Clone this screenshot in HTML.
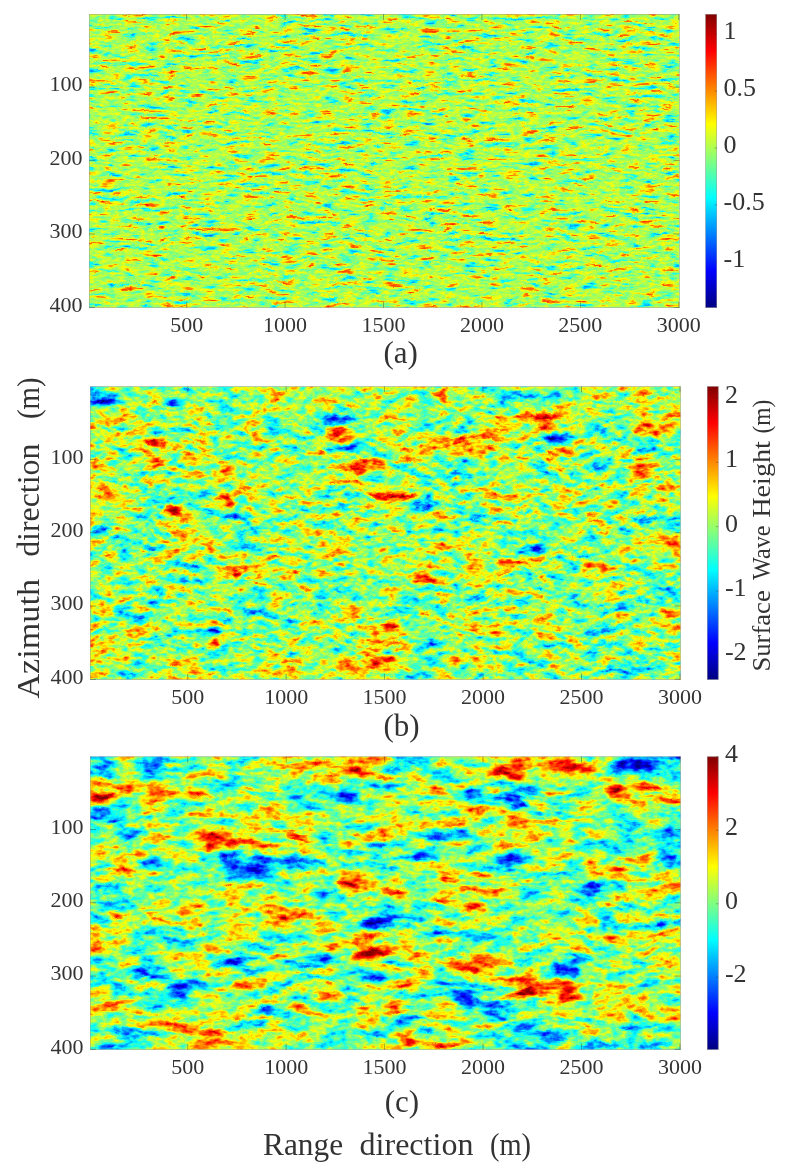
<!DOCTYPE html>
<html><head><meta charset="utf-8"><style>
html,body{margin:0;padding:0;background:#fff;}
body{width:790px;height:1173px;overflow:hidden;}
svg{display:block;will-change:transform;}
text{font-family:"Liberation Serif", serif;fill:#333333;}
.tk{font-size:22px;}
.cbt{font-size:26px;}
.lab{font-size:31px;}
.big{font-size:32px;}
.cbl{font-size:25px;}
</style></head><body>
<svg width="790" height="1173" viewBox="0 0 790 1173">
<defs>
<linearGradient id="jetgrad" x1="0" y1="1" x2="0" y2="0">
<stop offset="0.0000" stop-color="rgb(0,0,128)"/>
<stop offset="0.0312" stop-color="rgb(0,0,159)"/>
<stop offset="0.0625" stop-color="rgb(0,0,191)"/>
<stop offset="0.0938" stop-color="rgb(0,0,223)"/>
<stop offset="0.1250" stop-color="rgb(0,0,255)"/>
<stop offset="0.1562" stop-color="rgb(0,32,255)"/>
<stop offset="0.1875" stop-color="rgb(0,64,255)"/>
<stop offset="0.2188" stop-color="rgb(0,96,255)"/>
<stop offset="0.2500" stop-color="rgb(0,128,255)"/>
<stop offset="0.2812" stop-color="rgb(0,159,255)"/>
<stop offset="0.3125" stop-color="rgb(0,191,255)"/>
<stop offset="0.3438" stop-color="rgb(0,223,255)"/>
<stop offset="0.3750" stop-color="rgb(0,255,255)"/>
<stop offset="0.4062" stop-color="rgb(32,255,223)"/>
<stop offset="0.4375" stop-color="rgb(64,255,191)"/>
<stop offset="0.4688" stop-color="rgb(96,255,159)"/>
<stop offset="0.5000" stop-color="rgb(128,255,128)"/>
<stop offset="0.5312" stop-color="rgb(159,255,96)"/>
<stop offset="0.5625" stop-color="rgb(191,255,64)"/>
<stop offset="0.5938" stop-color="rgb(223,255,32)"/>
<stop offset="0.6250" stop-color="rgb(255,255,0)"/>
<stop offset="0.6562" stop-color="rgb(255,223,0)"/>
<stop offset="0.6875" stop-color="rgb(255,191,0)"/>
<stop offset="0.7188" stop-color="rgb(255,159,0)"/>
<stop offset="0.7500" stop-color="rgb(255,128,0)"/>
<stop offset="0.7812" stop-color="rgb(255,96,0)"/>
<stop offset="0.8125" stop-color="rgb(255,64,0)"/>
<stop offset="0.8438" stop-color="rgb(255,32,0)"/>
<stop offset="0.8750" stop-color="rgb(255,0,0)"/>
<stop offset="0.9062" stop-color="rgb(223,0,0)"/>
<stop offset="0.9375" stop-color="rgb(191,0,0)"/>
<stop offset="0.9688" stop-color="rgb(159,0,0)"/>
<stop offset="1.0000" stop-color="rgb(128,0,0)"/>
</linearGradient>
<filter id="gb0" filterUnits="userSpaceOnUse" x="59.0" y="-15.9" width="650.5" height="353.7" color-interpolation-filters="sRGB"><feGaussianBlur stdDeviation="0"/></filter>
<filter id="fb0" filterUnits="userSpaceOnUse" x="59.0" y="-15.9" width="650.5" height="353.7" color-interpolation-filters="sRGB"><feGaussianBlur stdDeviation="2"/></filter>
<filter id="hf0" filterUnits="userSpaceOnUse" x="59.0" y="-15.9" width="650.5" height="353.7" color-interpolation-filters="sRGB">
<feOffset in="SourceGraphic" dx="0" dy="0" result="s"/>
<feTurbulence type="fractalNoise" baseFrequency="0.05 0.24" numOctaves="3" seed="3" result="n0"/>
<feTurbulence type="fractalNoise" baseFrequency="0.03 0.05" numOctaves="2" seed="23" result="d0"/><feDisplacementMap in="n0" in2="d0" scale="8" xChannelSelector="R" yChannelSelector="G" result="n1"/><feColorMatrix in="n1" type="matrix" values="1 0 0 0 0  1 0 0 0 0  1 0 0 0 0  0 0 0 0 1" result="nr"/>
<feGaussianBlur in="nr" stdDeviation="10" result="nb"/>
<feColorMatrix in="nb" type="matrix" values="-1 0 0 0 1  -1 0 0 0 1  -1 0 0 0 1  0 0 0 0 1" result="nbi"/>
<feComposite in="nr" in2="nbi" operator="arithmetic" k1="0" k2="1" k3="1" k4="-0.5" result="nh"/>
<feComponentTransfer in="nh" result="n"><feFuncR type="table" tableValues="0 0.02 0.12 0.41 0.5 0.59 0.88 0.98 1"/><feFuncG type="table" tableValues="0 0.02 0.12 0.41 0.5 0.59 0.88 0.98 1"/><feFuncB type="table" tableValues="0 0.02 0.12 0.41 0.5 0.59 0.88 0.98 1"/></feComponentTransfer>
<feTurbulence type="fractalNoise" baseFrequency="0.2 0.35" numOctaves="2" seed="5" result="q0"/>
<feColorMatrix in="q0" type="matrix" values="1 0 0 0 0  1 0 0 0 0  1 0 0 0 0  0 0 0 0 1" result="q"/>
<feComposite in="s" in2="n" operator="arithmetic" k1="0" k2="1" k3="0.55" k4="-0.2750" result="m"/>
<feComposite in="m" in2="q" operator="arithmetic" k1="0" k2="1" k3="0.18" k4="-0.0900" result="m2"/>
<feColorMatrix in="m2" type="matrix" values="1 0 0 0 0  1 0 0 0 0  1 0 0 0 0  0 0 0 0 1"/>
<feComponentTransfer><feFuncR type="table" tableValues="0.000 0.000 0.000 0.000 0.000 0.000 0.000 0.000 0.000 0.000 0.000 0.000 0.000 0.125 0.250 0.375 0.500 0.625 0.750 0.875 1.000 1.000 1.000 1.000 1.000 1.000 1.000 1.000 1.000 0.875 0.750 0.625 0.500"/><feFuncG type="table" tableValues="0.000 0.000 0.000 0.000 0.000 0.125 0.250 0.375 0.500 0.625 0.750 0.875 1.000 1.000 1.000 1.000 1.000 1.000 1.000 1.000 1.000 0.875 0.750 0.625 0.500 0.375 0.250 0.125 0.000 0.000 0.000 0.000 0.000"/><feFuncB type="table" tableValues="0.500 0.625 0.750 0.875 1.000 1.000 1.000 1.000 1.000 1.000 1.000 1.000 1.000 0.875 0.750 0.625 0.500 0.375 0.250 0.125 0.000 0.000 0.000 0.000 0.000 0.000 0.000 0.000 0.000 0.000 0.000 0.000 0.000"/></feComponentTransfer><feGaussianBlur stdDeviation="0.6"/>
</filter>
<filter id="gb1" filterUnits="userSpaceOnUse" x="60.0" y="356.4" width="650.7" height="353.3" color-interpolation-filters="sRGB"><feGaussianBlur stdDeviation="7 6"/></filter>
<filter id="fb1" filterUnits="userSpaceOnUse" x="60.0" y="356.4" width="650.7" height="353.3" color-interpolation-filters="sRGB"><feGaussianBlur stdDeviation="3 2"/></filter>
<filter id="hf1" filterUnits="userSpaceOnUse" x="60.0" y="356.4" width="650.7" height="353.3" color-interpolation-filters="sRGB">
<feOffset in="SourceGraphic" dx="0" dy="0" result="s"/>
<feTurbulence type="fractalNoise" baseFrequency="0.06 0.14" numOctaves="3" seed="7" result="n0"/>
<feTurbulence type="fractalNoise" baseFrequency="0.02 0.03" numOctaves="2" seed="27" result="d0"/><feDisplacementMap in="n0" in2="d0" scale="14" xChannelSelector="R" yChannelSelector="G" result="n1"/><feColorMatrix in="n1" type="matrix" values="1 0 0 0 0  1 0 0 0 0  1 0 0 0 0  0 0 0 0 1" result="nr"/>
<feGaussianBlur in="nr" stdDeviation="12" result="nb"/>
<feColorMatrix in="nb" type="matrix" values="-1 0 0 0 1  -1 0 0 0 1  -1 0 0 0 1  0 0 0 0 1" result="nbi"/>
<feComposite in="nr" in2="nbi" operator="arithmetic" k1="0" k2="1" k3="1" k4="-0.5" result="nh"/>
<feComponentTransfer in="nh" result="n"><feFuncR type="table" tableValues="0 1"/><feFuncG type="table" tableValues="0 1"/><feFuncB type="table" tableValues="0 1"/></feComponentTransfer>
<feTurbulence type="fractalNoise" baseFrequency="0.15 0.25" numOctaves="2" seed="9" result="q0"/>
<feColorMatrix in="q0" type="matrix" values="1 0 0 0 0  1 0 0 0 0  1 0 0 0 0  0 0 0 0 1" result="q"/>
<feComposite in="s" in2="n" operator="arithmetic" k1="0" k2="1" k3="0.7" k4="-0.3500" result="m"/>
<feComposite in="m" in2="q" operator="arithmetic" k1="0" k2="1" k3="0.3" k4="-0.1500" result="m2"/>
<feColorMatrix in="m2" type="matrix" values="1 0 0 0 0  1 0 0 0 0  1 0 0 0 0  0 0 0 0 1"/>
<feComponentTransfer><feFuncR type="table" tableValues="0.000 0.000 0.000 0.000 0.000 0.000 0.000 0.000 0.000 0.000 0.000 0.000 0.000 0.125 0.250 0.375 0.500 0.625 0.750 0.875 1.000 1.000 1.000 1.000 1.000 1.000 1.000 1.000 1.000 0.875 0.750 0.625 0.500"/><feFuncG type="table" tableValues="0.000 0.000 0.000 0.000 0.000 0.125 0.250 0.375 0.500 0.625 0.750 0.875 1.000 1.000 1.000 1.000 1.000 1.000 1.000 1.000 1.000 0.875 0.750 0.625 0.500 0.375 0.250 0.125 0.000 0.000 0.000 0.000 0.000"/><feFuncB type="table" tableValues="0.500 0.625 0.750 0.875 1.000 1.000 1.000 1.000 1.000 1.000 1.000 1.000 1.000 0.875 0.750 0.625 0.500 0.375 0.250 0.125 0.000 0.000 0.000 0.000 0.000 0.000 0.000 0.000 0.000 0.000 0.000 0.000 0.000"/></feComponentTransfer><feGaussianBlur stdDeviation="0.6"/>
</filter>
<filter id="gb2" filterUnits="userSpaceOnUse" x="60.0" y="726.6" width="650.7" height="353.1" color-interpolation-filters="sRGB"><feGaussianBlur stdDeviation="10 5"/></filter>
<filter id="fb2" filterUnits="userSpaceOnUse" x="60.0" y="726.6" width="650.7" height="353.1" color-interpolation-filters="sRGB"><feGaussianBlur stdDeviation="3.5 2.5"/></filter>
<filter id="hf2" filterUnits="userSpaceOnUse" x="60.0" y="726.6" width="650.7" height="353.1" color-interpolation-filters="sRGB">
<feOffset in="SourceGraphic" dx="0" dy="0" result="s"/>
<feTurbulence type="fractalNoise" baseFrequency="0.035 0.1" numOctaves="3" seed="11" result="n0"/>
<feTurbulence type="fractalNoise" baseFrequency="0.015 0.025" numOctaves="2" seed="31" result="d0"/><feDisplacementMap in="n0" in2="d0" scale="16" xChannelSelector="R" yChannelSelector="G" result="n1"/><feColorMatrix in="n1" type="matrix" values="1 0 0 0 0  1 0 0 0 0  1 0 0 0 0  0 0 0 0 1" result="nr"/>
<feGaussianBlur in="nr" stdDeviation="14" result="nb"/>
<feColorMatrix in="nb" type="matrix" values="-1 0 0 0 1  -1 0 0 0 1  -1 0 0 0 1  0 0 0 0 1" result="nbi"/>
<feComposite in="nr" in2="nbi" operator="arithmetic" k1="0" k2="1" k3="1" k4="-0.5" result="nh"/>
<feComponentTransfer in="nh" result="n"><feFuncR type="table" tableValues="0 1"/><feFuncG type="table" tableValues="0 1"/><feFuncB type="table" tableValues="0 1"/></feComponentTransfer>
<feTurbulence type="fractalNoise" baseFrequency="0.15 0.25" numOctaves="2" seed="13" result="q0"/>
<feColorMatrix in="q0" type="matrix" values="1 0 0 0 0  1 0 0 0 0  1 0 0 0 0  0 0 0 0 1" result="q"/>
<feComposite in="s" in2="n" operator="arithmetic" k1="0" k2="1" k3="0.78" k4="-0.3900" result="m"/>
<feComposite in="m" in2="q" operator="arithmetic" k1="0" k2="1" k3="0.3" k4="-0.1500" result="m2"/>
<feColorMatrix in="m2" type="matrix" values="1 0 0 0 0  1 0 0 0 0  1 0 0 0 0  0 0 0 0 1"/>
<feComponentTransfer><feFuncR type="table" tableValues="0.000 0.000 0.000 0.000 0.000 0.000 0.000 0.000 0.000 0.000 0.000 0.000 0.000 0.125 0.250 0.375 0.500 0.625 0.750 0.875 1.000 1.000 1.000 1.000 1.000 1.000 1.000 1.000 1.000 0.875 0.750 0.625 0.500"/><feFuncG type="table" tableValues="0.000 0.000 0.000 0.000 0.000 0.125 0.250 0.375 0.500 0.625 0.750 0.875 1.000 1.000 1.000 1.000 1.000 1.000 1.000 1.000 1.000 0.875 0.750 0.625 0.500 0.375 0.250 0.125 0.000 0.000 0.000 0.000 0.000"/><feFuncB type="table" tableValues="0.500 0.625 0.750 0.875 1.000 1.000 1.000 1.000 1.000 1.000 1.000 1.000 1.000 0.875 0.750 0.625 0.500 0.375 0.250 0.125 0.000 0.000 0.000 0.000 0.000 0.000 0.000 0.000 0.000 0.000 0.000 0.000 0.000"/></feComponentTransfer><feGaussianBlur stdDeviation="0.6"/>
</filter>
</defs>
<rect width="790" height="1173" fill="#fff"/>
<clipPath id="cp0"><rect x="89.0" y="14.1" width="590.50" height="293.70"/></clipPath>
<g clip-path="url(#cp0)"><g filter="url(#hf0)">
<rect x="59.0" y="-15.9" width="650.50" height="353.70" fill="#8c8c8c"/>
</g></g>
<rect x="89.25" y="14.35" width="590.00" height="293.20" fill="none" stroke="#9a9a9a" stroke-width="0.5"/>
<line x1="186.68" y1="307.8" x2="186.68" y2="301.8" stroke="#333" stroke-width="0.7" opacity="0.6"/>
<line x1="186.68" y1="14.1" x2="186.68" y2="20.1" stroke="#333" stroke-width="0.7" opacity="0.6"/>
<text x="186.68" y="331.80" text-anchor="middle" class="tk">500</text>
<line x1="285.10" y1="307.8" x2="285.10" y2="301.8" stroke="#333" stroke-width="0.7" opacity="0.6"/>
<line x1="285.10" y1="14.1" x2="285.10" y2="20.1" stroke="#333" stroke-width="0.7" opacity="0.6"/>
<text x="285.10" y="331.80" text-anchor="middle" class="tk">1000</text>
<line x1="383.51" y1="307.8" x2="383.51" y2="301.8" stroke="#333" stroke-width="0.7" opacity="0.6"/>
<line x1="383.51" y1="14.1" x2="383.51" y2="20.1" stroke="#333" stroke-width="0.7" opacity="0.6"/>
<text x="383.51" y="331.80" text-anchor="middle" class="tk">1500</text>
<line x1="481.93" y1="307.8" x2="481.93" y2="301.8" stroke="#333" stroke-width="0.7" opacity="0.6"/>
<line x1="481.93" y1="14.1" x2="481.93" y2="20.1" stroke="#333" stroke-width="0.7" opacity="0.6"/>
<text x="481.93" y="331.80" text-anchor="middle" class="tk">2000</text>
<line x1="580.35" y1="307.8" x2="580.35" y2="301.8" stroke="#333" stroke-width="0.7" opacity="0.6"/>
<line x1="580.35" y1="14.1" x2="580.35" y2="20.1" stroke="#333" stroke-width="0.7" opacity="0.6"/>
<text x="580.35" y="331.80" text-anchor="middle" class="tk">2500</text>
<line x1="678.76" y1="307.8" x2="678.76" y2="301.8" stroke="#333" stroke-width="0.7" opacity="0.6"/>
<line x1="678.76" y1="14.1" x2="678.76" y2="20.1" stroke="#333" stroke-width="0.7" opacity="0.6"/>
<text x="678.76" y="331.80" text-anchor="middle" class="tk">3000</text>
<line x1="89.0" y1="87.16" x2="95.0" y2="87.16" stroke="#333" stroke-width="0.7" opacity="0.6"/>
<line x1="679.5" y1="87.16" x2="673.5" y2="87.16" stroke="#333" stroke-width="0.7" opacity="0.6"/>
<text x="82.40" y="91.46" text-anchor="end" class="tk">100</text>
<line x1="89.0" y1="160.58" x2="95.0" y2="160.58" stroke="#333" stroke-width="0.7" opacity="0.6"/>
<line x1="679.5" y1="160.58" x2="673.5" y2="160.58" stroke="#333" stroke-width="0.7" opacity="0.6"/>
<text x="82.40" y="164.88" text-anchor="end" class="tk">200</text>
<line x1="89.0" y1="234.01" x2="95.0" y2="234.01" stroke="#333" stroke-width="0.7" opacity="0.6"/>
<line x1="679.5" y1="234.01" x2="673.5" y2="234.01" stroke="#333" stroke-width="0.7" opacity="0.6"/>
<text x="82.40" y="238.31" text-anchor="end" class="tk">300</text>
<line x1="89.0" y1="307.43" x2="95.0" y2="307.43" stroke="#333" stroke-width="0.7" opacity="0.6"/>
<line x1="679.5" y1="307.43" x2="673.5" y2="307.43" stroke="#333" stroke-width="0.7" opacity="0.6"/>
<text x="82.40" y="311.73" text-anchor="end" class="tk">400</text>
<rect x="705.5" y="14.1" width="11.50" height="293.70" fill="url(#jetgrad)"/>
<rect x="705.75" y="14.35" width="11.00" height="293.20" fill="none" stroke="#9a9a9a" stroke-width="0.5"/>
<line x1="714.50" y1="34.20" x2="717.00" y2="34.20" stroke="#333" stroke-width="0.7" opacity="0.5"/>
<text x="723.50" y="39.10" class="cbt">1</text>
<line x1="714.50" y1="91.10" x2="717.00" y2="91.10" stroke="#333" stroke-width="0.7" opacity="0.5"/>
<text x="723.50" y="96.00" class="cbt">0.5</text>
<line x1="714.50" y1="148.00" x2="717.00" y2="148.00" stroke="#333" stroke-width="0.7" opacity="0.5"/>
<text x="723.50" y="152.90" class="cbt">0</text>
<line x1="714.50" y1="204.90" x2="717.00" y2="204.90" stroke="#333" stroke-width="0.7" opacity="0.5"/>
<text x="723.50" y="209.80" class="cbt">-0.5</text>
<line x1="714.50" y1="261.80" x2="717.00" y2="261.80" stroke="#333" stroke-width="0.7" opacity="0.5"/>
<text x="723.50" y="266.70" class="cbt">-1</text>
<text x="400.60" y="363.20" text-anchor="middle" class="lab">(a)</text>
<clipPath id="cp1"><rect x="90.0" y="386.4" width="590.70" height="293.30"/></clipPath>
<g clip-path="url(#cp1)"><g filter="url(#hf1)">
<g filter="url(#gb1)">
<rect x="65.4" y="362.0" width="25.2" height="25.0" fill="#5c5c5c"/>
<rect x="90.0" y="362.0" width="25.2" height="25.0" fill="#5c5c5c"/>
<rect x="114.6" y="362.0" width="25.2" height="25.0" fill="#878787"/>
<rect x="139.2" y="362.0" width="25.2" height="25.0" fill="#878787"/>
<rect x="163.8" y="362.0" width="25.2" height="25.0" fill="#727272"/>
<rect x="188.4" y="362.0" width="25.2" height="25.0" fill="#878787"/>
<rect x="213.1" y="362.0" width="25.2" height="25.0" fill="#727272"/>
<rect x="237.7" y="362.0" width="25.2" height="25.0" fill="#878787"/>
<rect x="262.3" y="362.0" width="25.2" height="25.0" fill="#9d9d9d"/>
<rect x="286.9" y="362.0" width="25.2" height="25.0" fill="#878787"/>
<rect x="311.5" y="362.0" width="25.2" height="25.0" fill="#9d9d9d"/>
<rect x="336.1" y="362.0" width="25.2" height="25.0" fill="#878787"/>
<rect x="360.7" y="362.0" width="25.2" height="25.0" fill="#878787"/>
<rect x="385.4" y="362.0" width="25.2" height="25.0" fill="#878787"/>
<rect x="410.0" y="362.0" width="25.2" height="25.0" fill="#878787"/>
<rect x="434.6" y="362.0" width="25.2" height="25.0" fill="#9d9d9d"/>
<rect x="459.2" y="362.0" width="25.2" height="25.0" fill="#878787"/>
<rect x="483.8" y="362.0" width="25.2" height="25.0" fill="#727272"/>
<rect x="508.4" y="362.0" width="25.2" height="25.0" fill="#727272"/>
<rect x="533.0" y="362.0" width="25.2" height="25.0" fill="#727272"/>
<rect x="557.6" y="362.0" width="25.2" height="25.0" fill="#878787"/>
<rect x="582.2" y="362.0" width="25.2" height="25.0" fill="#9d9d9d"/>
<rect x="606.9" y="362.0" width="25.2" height="25.0" fill="#878787"/>
<rect x="631.5" y="362.0" width="25.2" height="25.0" fill="#9d9d9d"/>
<rect x="656.1" y="362.0" width="25.2" height="25.0" fill="#878787"/>
<rect x="680.7" y="362.0" width="25.2" height="25.0" fill="#878787"/>
<rect x="65.4" y="386.4" width="25.2" height="25.0" fill="#5c5c5c"/>
<rect x="90.0" y="386.4" width="25.2" height="25.0" fill="#5c5c5c"/>
<rect x="114.6" y="386.4" width="25.2" height="25.0" fill="#878787"/>
<rect x="139.2" y="386.4" width="25.2" height="25.0" fill="#878787"/>
<rect x="163.8" y="386.4" width="25.2" height="25.0" fill="#727272"/>
<rect x="188.4" y="386.4" width="25.2" height="25.0" fill="#878787"/>
<rect x="213.1" y="386.4" width="25.2" height="25.0" fill="#727272"/>
<rect x="237.7" y="386.4" width="25.2" height="25.0" fill="#878787"/>
<rect x="262.3" y="386.4" width="25.2" height="25.0" fill="#9d9d9d"/>
<rect x="286.9" y="386.4" width="25.2" height="25.0" fill="#878787"/>
<rect x="311.5" y="386.4" width="25.2" height="25.0" fill="#9d9d9d"/>
<rect x="336.1" y="386.4" width="25.2" height="25.0" fill="#878787"/>
<rect x="360.7" y="386.4" width="25.2" height="25.0" fill="#878787"/>
<rect x="385.4" y="386.4" width="25.2" height="25.0" fill="#878787"/>
<rect x="410.0" y="386.4" width="25.2" height="25.0" fill="#878787"/>
<rect x="434.6" y="386.4" width="25.2" height="25.0" fill="#9d9d9d"/>
<rect x="459.2" y="386.4" width="25.2" height="25.0" fill="#878787"/>
<rect x="483.8" y="386.4" width="25.2" height="25.0" fill="#727272"/>
<rect x="508.4" y="386.4" width="25.2" height="25.0" fill="#727272"/>
<rect x="533.0" y="386.4" width="25.2" height="25.0" fill="#727272"/>
<rect x="557.6" y="386.4" width="25.2" height="25.0" fill="#878787"/>
<rect x="582.2" y="386.4" width="25.2" height="25.0" fill="#9d9d9d"/>
<rect x="606.9" y="386.4" width="25.2" height="25.0" fill="#878787"/>
<rect x="631.5" y="386.4" width="25.2" height="25.0" fill="#9d9d9d"/>
<rect x="656.1" y="386.4" width="25.2" height="25.0" fill="#878787"/>
<rect x="680.7" y="386.4" width="25.2" height="25.0" fill="#878787"/>
<rect x="65.4" y="410.8" width="25.2" height="25.0" fill="#9d9d9d"/>
<rect x="90.0" y="410.8" width="25.2" height="25.0" fill="#9d9d9d"/>
<rect x="114.6" y="410.8" width="25.2" height="25.0" fill="#9d9d9d"/>
<rect x="139.2" y="410.8" width="25.2" height="25.0" fill="#878787"/>
<rect x="163.8" y="410.8" width="25.2" height="25.0" fill="#878787"/>
<rect x="188.4" y="410.8" width="25.2" height="25.0" fill="#9d9d9d"/>
<rect x="213.1" y="410.8" width="25.2" height="25.0" fill="#727272"/>
<rect x="237.7" y="410.8" width="25.2" height="25.0" fill="#9d9d9d"/>
<rect x="262.3" y="410.8" width="25.2" height="25.0" fill="#727272"/>
<rect x="286.9" y="410.8" width="25.2" height="25.0" fill="#878787"/>
<rect x="311.5" y="410.8" width="25.2" height="25.0" fill="#5c5c5c"/>
<rect x="336.1" y="410.8" width="25.2" height="25.0" fill="#878787"/>
<rect x="360.7" y="410.8" width="25.2" height="25.0" fill="#878787"/>
<rect x="385.4" y="410.8" width="25.2" height="25.0" fill="#9d9d9d"/>
<rect x="410.0" y="410.8" width="25.2" height="25.0" fill="#727272"/>
<rect x="434.6" y="410.8" width="25.2" height="25.0" fill="#727272"/>
<rect x="459.2" y="410.8" width="25.2" height="25.0" fill="#878787"/>
<rect x="483.8" y="410.8" width="25.2" height="25.0" fill="#9d9d9d"/>
<rect x="508.4" y="410.8" width="25.2" height="25.0" fill="#9d9d9d"/>
<rect x="533.0" y="410.8" width="25.2" height="25.0" fill="#b2b2b2"/>
<rect x="557.6" y="410.8" width="25.2" height="25.0" fill="#9d9d9d"/>
<rect x="582.2" y="410.8" width="25.2" height="25.0" fill="#727272"/>
<rect x="606.9" y="410.8" width="25.2" height="25.0" fill="#727272"/>
<rect x="631.5" y="410.8" width="25.2" height="25.0" fill="#9d9d9d"/>
<rect x="656.1" y="410.8" width="25.2" height="25.0" fill="#9d9d9d"/>
<rect x="680.7" y="410.8" width="25.2" height="25.0" fill="#9d9d9d"/>
<rect x="65.4" y="435.3" width="25.2" height="25.0" fill="#878787"/>
<rect x="90.0" y="435.3" width="25.2" height="25.0" fill="#878787"/>
<rect x="114.6" y="435.3" width="25.2" height="25.0" fill="#878787"/>
<rect x="139.2" y="435.3" width="25.2" height="25.0" fill="#b2b2b2"/>
<rect x="163.8" y="435.3" width="25.2" height="25.0" fill="#878787"/>
<rect x="188.4" y="435.3" width="25.2" height="25.0" fill="#9d9d9d"/>
<rect x="213.1" y="435.3" width="25.2" height="25.0" fill="#727272"/>
<rect x="237.7" y="435.3" width="25.2" height="25.0" fill="#878787"/>
<rect x="262.3" y="435.3" width="25.2" height="25.0" fill="#878787"/>
<rect x="286.9" y="435.3" width="25.2" height="25.0" fill="#727272"/>
<rect x="311.5" y="435.3" width="25.2" height="25.0" fill="#9d9d9d"/>
<rect x="336.1" y="435.3" width="25.2" height="25.0" fill="#878787"/>
<rect x="360.7" y="435.3" width="25.2" height="25.0" fill="#727272"/>
<rect x="385.4" y="435.3" width="25.2" height="25.0" fill="#9d9d9d"/>
<rect x="410.0" y="435.3" width="25.2" height="25.0" fill="#9d9d9d"/>
<rect x="434.6" y="435.3" width="25.2" height="25.0" fill="#9d9d9d"/>
<rect x="459.2" y="435.3" width="25.2" height="25.0" fill="#b2b2b2"/>
<rect x="483.8" y="435.3" width="25.2" height="25.0" fill="#9d9d9d"/>
<rect x="508.4" y="435.3" width="25.2" height="25.0" fill="#878787"/>
<rect x="533.0" y="435.3" width="25.2" height="25.0" fill="#727272"/>
<rect x="557.6" y="435.3" width="25.2" height="25.0" fill="#878787"/>
<rect x="582.2" y="435.3" width="25.2" height="25.0" fill="#878787"/>
<rect x="606.9" y="435.3" width="25.2" height="25.0" fill="#878787"/>
<rect x="631.5" y="435.3" width="25.2" height="25.0" fill="#727272"/>
<rect x="656.1" y="435.3" width="25.2" height="25.0" fill="#727272"/>
<rect x="680.7" y="435.3" width="25.2" height="25.0" fill="#727272"/>
<rect x="65.4" y="459.7" width="25.2" height="25.0" fill="#9d9d9d"/>
<rect x="90.0" y="459.7" width="25.2" height="25.0" fill="#9d9d9d"/>
<rect x="114.6" y="459.7" width="25.2" height="25.0" fill="#727272"/>
<rect x="139.2" y="459.7" width="25.2" height="25.0" fill="#9d9d9d"/>
<rect x="163.8" y="459.7" width="25.2" height="25.0" fill="#878787"/>
<rect x="188.4" y="459.7" width="25.2" height="25.0" fill="#9d9d9d"/>
<rect x="213.1" y="459.7" width="25.2" height="25.0" fill="#9d9d9d"/>
<rect x="237.7" y="459.7" width="25.2" height="25.0" fill="#878787"/>
<rect x="262.3" y="459.7" width="25.2" height="25.0" fill="#878787"/>
<rect x="286.9" y="459.7" width="25.2" height="25.0" fill="#878787"/>
<rect x="311.5" y="459.7" width="25.2" height="25.0" fill="#878787"/>
<rect x="336.1" y="459.7" width="25.2" height="25.0" fill="#b2b2b2"/>
<rect x="360.7" y="459.7" width="25.2" height="25.0" fill="#878787"/>
<rect x="385.4" y="459.7" width="25.2" height="25.0" fill="#727272"/>
<rect x="410.0" y="459.7" width="25.2" height="25.0" fill="#878787"/>
<rect x="434.6" y="459.7" width="25.2" height="25.0" fill="#727272"/>
<rect x="459.2" y="459.7" width="25.2" height="25.0" fill="#727272"/>
<rect x="483.8" y="459.7" width="25.2" height="25.0" fill="#878787"/>
<rect x="508.4" y="459.7" width="25.2" height="25.0" fill="#878787"/>
<rect x="533.0" y="459.7" width="25.2" height="25.0" fill="#727272"/>
<rect x="557.6" y="459.7" width="25.2" height="25.0" fill="#878787"/>
<rect x="582.2" y="459.7" width="25.2" height="25.0" fill="#727272"/>
<rect x="606.9" y="459.7" width="25.2" height="25.0" fill="#878787"/>
<rect x="631.5" y="459.7" width="25.2" height="25.0" fill="#b2b2b2"/>
<rect x="656.1" y="459.7" width="25.2" height="25.0" fill="#878787"/>
<rect x="680.7" y="459.7" width="25.2" height="25.0" fill="#878787"/>
<rect x="65.4" y="484.2" width="25.2" height="25.0" fill="#9d9d9d"/>
<rect x="90.0" y="484.2" width="25.2" height="25.0" fill="#9d9d9d"/>
<rect x="114.6" y="484.2" width="25.2" height="25.0" fill="#9d9d9d"/>
<rect x="139.2" y="484.2" width="25.2" height="25.0" fill="#727272"/>
<rect x="163.8" y="484.2" width="25.2" height="25.0" fill="#727272"/>
<rect x="188.4" y="484.2" width="25.2" height="25.0" fill="#727272"/>
<rect x="213.1" y="484.2" width="25.2" height="25.0" fill="#878787"/>
<rect x="237.7" y="484.2" width="25.2" height="25.0" fill="#9d9d9d"/>
<rect x="262.3" y="484.2" width="25.2" height="25.0" fill="#878787"/>
<rect x="286.9" y="484.2" width="25.2" height="25.0" fill="#878787"/>
<rect x="311.5" y="484.2" width="25.2" height="25.0" fill="#878787"/>
<rect x="336.1" y="484.2" width="25.2" height="25.0" fill="#727272"/>
<rect x="360.7" y="484.2" width="25.2" height="25.0" fill="#9d9d9d"/>
<rect x="385.4" y="484.2" width="25.2" height="25.0" fill="#b2b2b2"/>
<rect x="410.0" y="484.2" width="25.2" height="25.0" fill="#727272"/>
<rect x="434.6" y="484.2" width="25.2" height="25.0" fill="#878787"/>
<rect x="459.2" y="484.2" width="25.2" height="25.0" fill="#878787"/>
<rect x="483.8" y="484.2" width="25.2" height="25.0" fill="#9d9d9d"/>
<rect x="508.4" y="484.2" width="25.2" height="25.0" fill="#9d9d9d"/>
<rect x="533.0" y="484.2" width="25.2" height="25.0" fill="#878787"/>
<rect x="557.6" y="484.2" width="25.2" height="25.0" fill="#9d9d9d"/>
<rect x="582.2" y="484.2" width="25.2" height="25.0" fill="#878787"/>
<rect x="606.9" y="484.2" width="25.2" height="25.0" fill="#878787"/>
<rect x="631.5" y="484.2" width="25.2" height="25.0" fill="#878787"/>
<rect x="656.1" y="484.2" width="25.2" height="25.0" fill="#9d9d9d"/>
<rect x="680.7" y="484.2" width="25.2" height="25.0" fill="#9d9d9d"/>
<rect x="65.4" y="508.6" width="25.2" height="25.0" fill="#878787"/>
<rect x="90.0" y="508.6" width="25.2" height="25.0" fill="#878787"/>
<rect x="114.6" y="508.6" width="25.2" height="25.0" fill="#878787"/>
<rect x="139.2" y="508.6" width="25.2" height="25.0" fill="#727272"/>
<rect x="163.8" y="508.6" width="25.2" height="25.0" fill="#b2b2b2"/>
<rect x="188.4" y="508.6" width="25.2" height="25.0" fill="#878787"/>
<rect x="213.1" y="508.6" width="25.2" height="25.0" fill="#727272"/>
<rect x="237.7" y="508.6" width="25.2" height="25.0" fill="#727272"/>
<rect x="262.3" y="508.6" width="25.2" height="25.0" fill="#878787"/>
<rect x="286.9" y="508.6" width="25.2" height="25.0" fill="#878787"/>
<rect x="311.5" y="508.6" width="25.2" height="25.0" fill="#878787"/>
<rect x="336.1" y="508.6" width="25.2" height="25.0" fill="#878787"/>
<rect x="360.7" y="508.6" width="25.2" height="25.0" fill="#878787"/>
<rect x="385.4" y="508.6" width="25.2" height="25.0" fill="#878787"/>
<rect x="410.0" y="508.6" width="25.2" height="25.0" fill="#878787"/>
<rect x="434.6" y="508.6" width="25.2" height="25.0" fill="#878787"/>
<rect x="459.2" y="508.6" width="25.2" height="25.0" fill="#727272"/>
<rect x="483.8" y="508.6" width="25.2" height="25.0" fill="#878787"/>
<rect x="508.4" y="508.6" width="25.2" height="25.0" fill="#878787"/>
<rect x="533.0" y="508.6" width="25.2" height="25.0" fill="#727272"/>
<rect x="557.6" y="508.6" width="25.2" height="25.0" fill="#878787"/>
<rect x="582.2" y="508.6" width="25.2" height="25.0" fill="#878787"/>
<rect x="606.9" y="508.6" width="25.2" height="25.0" fill="#878787"/>
<rect x="631.5" y="508.6" width="25.2" height="25.0" fill="#727272"/>
<rect x="656.1" y="508.6" width="25.2" height="25.0" fill="#727272"/>
<rect x="680.7" y="508.6" width="25.2" height="25.0" fill="#727272"/>
<rect x="65.4" y="533.0" width="25.2" height="25.0" fill="#878787"/>
<rect x="90.0" y="533.0" width="25.2" height="25.0" fill="#878787"/>
<rect x="114.6" y="533.0" width="25.2" height="25.0" fill="#727272"/>
<rect x="139.2" y="533.0" width="25.2" height="25.0" fill="#727272"/>
<rect x="163.8" y="533.0" width="25.2" height="25.0" fill="#9d9d9d"/>
<rect x="188.4" y="533.0" width="25.2" height="25.0" fill="#9d9d9d"/>
<rect x="213.1" y="533.0" width="25.2" height="25.0" fill="#878787"/>
<rect x="237.7" y="533.0" width="25.2" height="25.0" fill="#727272"/>
<rect x="262.3" y="533.0" width="25.2" height="25.0" fill="#878787"/>
<rect x="286.9" y="533.0" width="25.2" height="25.0" fill="#878787"/>
<rect x="311.5" y="533.0" width="25.2" height="25.0" fill="#9d9d9d"/>
<rect x="336.1" y="533.0" width="25.2" height="25.0" fill="#878787"/>
<rect x="360.7" y="533.0" width="25.2" height="25.0" fill="#878787"/>
<rect x="385.4" y="533.0" width="25.2" height="25.0" fill="#878787"/>
<rect x="410.0" y="533.0" width="25.2" height="25.0" fill="#878787"/>
<rect x="434.6" y="533.0" width="25.2" height="25.0" fill="#878787"/>
<rect x="459.2" y="533.0" width="25.2" height="25.0" fill="#9d9d9d"/>
<rect x="483.8" y="533.0" width="25.2" height="25.0" fill="#878787"/>
<rect x="508.4" y="533.0" width="25.2" height="25.0" fill="#727272"/>
<rect x="533.0" y="533.0" width="25.2" height="25.0" fill="#878787"/>
<rect x="557.6" y="533.0" width="25.2" height="25.0" fill="#878787"/>
<rect x="582.2" y="533.0" width="25.2" height="25.0" fill="#727272"/>
<rect x="606.9" y="533.0" width="25.2" height="25.0" fill="#878787"/>
<rect x="631.5" y="533.0" width="25.2" height="25.0" fill="#9d9d9d"/>
<rect x="656.1" y="533.0" width="25.2" height="25.0" fill="#9d9d9d"/>
<rect x="680.7" y="533.0" width="25.2" height="25.0" fill="#9d9d9d"/>
<rect x="65.4" y="557.5" width="25.2" height="25.0" fill="#878787"/>
<rect x="90.0" y="557.5" width="25.2" height="25.0" fill="#878787"/>
<rect x="114.6" y="557.5" width="25.2" height="25.0" fill="#878787"/>
<rect x="139.2" y="557.5" width="25.2" height="25.0" fill="#878787"/>
<rect x="163.8" y="557.5" width="25.2" height="25.0" fill="#727272"/>
<rect x="188.4" y="557.5" width="25.2" height="25.0" fill="#727272"/>
<rect x="213.1" y="557.5" width="25.2" height="25.0" fill="#9d9d9d"/>
<rect x="237.7" y="557.5" width="25.2" height="25.0" fill="#9d9d9d"/>
<rect x="262.3" y="557.5" width="25.2" height="25.0" fill="#9d9d9d"/>
<rect x="286.9" y="557.5" width="25.2" height="25.0" fill="#878787"/>
<rect x="311.5" y="557.5" width="25.2" height="25.0" fill="#878787"/>
<rect x="336.1" y="557.5" width="25.2" height="25.0" fill="#878787"/>
<rect x="360.7" y="557.5" width="25.2" height="25.0" fill="#878787"/>
<rect x="385.4" y="557.5" width="25.2" height="25.0" fill="#878787"/>
<rect x="410.0" y="557.5" width="25.2" height="25.0" fill="#9d9d9d"/>
<rect x="434.6" y="557.5" width="25.2" height="25.0" fill="#878787"/>
<rect x="459.2" y="557.5" width="25.2" height="25.0" fill="#9d9d9d"/>
<rect x="483.8" y="557.5" width="25.2" height="25.0" fill="#9d9d9d"/>
<rect x="508.4" y="557.5" width="25.2" height="25.0" fill="#878787"/>
<rect x="533.0" y="557.5" width="25.2" height="25.0" fill="#878787"/>
<rect x="557.6" y="557.5" width="25.2" height="25.0" fill="#727272"/>
<rect x="582.2" y="557.5" width="25.2" height="25.0" fill="#9d9d9d"/>
<rect x="606.9" y="557.5" width="25.2" height="25.0" fill="#878787"/>
<rect x="631.5" y="557.5" width="25.2" height="25.0" fill="#727272"/>
<rect x="656.1" y="557.5" width="25.2" height="25.0" fill="#878787"/>
<rect x="680.7" y="557.5" width="25.2" height="25.0" fill="#878787"/>
<rect x="65.4" y="581.9" width="25.2" height="25.0" fill="#878787"/>
<rect x="90.0" y="581.9" width="25.2" height="25.0" fill="#878787"/>
<rect x="114.6" y="581.9" width="25.2" height="25.0" fill="#878787"/>
<rect x="139.2" y="581.9" width="25.2" height="25.0" fill="#727272"/>
<rect x="163.8" y="581.9" width="25.2" height="25.0" fill="#878787"/>
<rect x="188.4" y="581.9" width="25.2" height="25.0" fill="#878787"/>
<rect x="213.1" y="581.9" width="25.2" height="25.0" fill="#878787"/>
<rect x="237.7" y="581.9" width="25.2" height="25.0" fill="#727272"/>
<rect x="262.3" y="581.9" width="25.2" height="25.0" fill="#878787"/>
<rect x="286.9" y="581.9" width="25.2" height="25.0" fill="#878787"/>
<rect x="311.5" y="581.9" width="25.2" height="25.0" fill="#727272"/>
<rect x="336.1" y="581.9" width="25.2" height="25.0" fill="#727272"/>
<rect x="360.7" y="581.9" width="25.2" height="25.0" fill="#878787"/>
<rect x="385.4" y="581.9" width="25.2" height="25.0" fill="#878787"/>
<rect x="410.0" y="581.9" width="25.2" height="25.0" fill="#727272"/>
<rect x="434.6" y="581.9" width="25.2" height="25.0" fill="#878787"/>
<rect x="459.2" y="581.9" width="25.2" height="25.0" fill="#727272"/>
<rect x="483.8" y="581.9" width="25.2" height="25.0" fill="#878787"/>
<rect x="508.4" y="581.9" width="25.2" height="25.0" fill="#878787"/>
<rect x="533.0" y="581.9" width="25.2" height="25.0" fill="#878787"/>
<rect x="557.6" y="581.9" width="25.2" height="25.0" fill="#727272"/>
<rect x="582.2" y="581.9" width="25.2" height="25.0" fill="#878787"/>
<rect x="606.9" y="581.9" width="25.2" height="25.0" fill="#9d9d9d"/>
<rect x="631.5" y="581.9" width="25.2" height="25.0" fill="#727272"/>
<rect x="656.1" y="581.9" width="25.2" height="25.0" fill="#727272"/>
<rect x="680.7" y="581.9" width="25.2" height="25.0" fill="#727272"/>
<rect x="65.4" y="606.4" width="25.2" height="25.0" fill="#878787"/>
<rect x="90.0" y="606.4" width="25.2" height="25.0" fill="#878787"/>
<rect x="114.6" y="606.4" width="25.2" height="25.0" fill="#727272"/>
<rect x="139.2" y="606.4" width="25.2" height="25.0" fill="#878787"/>
<rect x="163.8" y="606.4" width="25.2" height="25.0" fill="#878787"/>
<rect x="188.4" y="606.4" width="25.2" height="25.0" fill="#878787"/>
<rect x="213.1" y="606.4" width="25.2" height="25.0" fill="#878787"/>
<rect x="237.7" y="606.4" width="25.2" height="25.0" fill="#727272"/>
<rect x="262.3" y="606.4" width="25.2" height="25.0" fill="#727272"/>
<rect x="286.9" y="606.4" width="25.2" height="25.0" fill="#878787"/>
<rect x="311.5" y="606.4" width="25.2" height="25.0" fill="#878787"/>
<rect x="336.1" y="606.4" width="25.2" height="25.0" fill="#9d9d9d"/>
<rect x="360.7" y="606.4" width="25.2" height="25.0" fill="#878787"/>
<rect x="385.4" y="606.4" width="25.2" height="25.0" fill="#727272"/>
<rect x="410.0" y="606.4" width="25.2" height="25.0" fill="#878787"/>
<rect x="434.6" y="606.4" width="25.2" height="25.0" fill="#878787"/>
<rect x="459.2" y="606.4" width="25.2" height="25.0" fill="#9d9d9d"/>
<rect x="483.8" y="606.4" width="25.2" height="25.0" fill="#878787"/>
<rect x="508.4" y="606.4" width="25.2" height="25.0" fill="#878787"/>
<rect x="533.0" y="606.4" width="25.2" height="25.0" fill="#9d9d9d"/>
<rect x="557.6" y="606.4" width="25.2" height="25.0" fill="#878787"/>
<rect x="582.2" y="606.4" width="25.2" height="25.0" fill="#727272"/>
<rect x="606.9" y="606.4" width="25.2" height="25.0" fill="#727272"/>
<rect x="631.5" y="606.4" width="25.2" height="25.0" fill="#878787"/>
<rect x="656.1" y="606.4" width="25.2" height="25.0" fill="#9d9d9d"/>
<rect x="680.7" y="606.4" width="25.2" height="25.0" fill="#9d9d9d"/>
<rect x="65.4" y="630.8" width="25.2" height="25.0" fill="#9d9d9d"/>
<rect x="90.0" y="630.8" width="25.2" height="25.0" fill="#9d9d9d"/>
<rect x="114.6" y="630.8" width="25.2" height="25.0" fill="#9d9d9d"/>
<rect x="139.2" y="630.8" width="25.2" height="25.0" fill="#727272"/>
<rect x="163.8" y="630.8" width="25.2" height="25.0" fill="#878787"/>
<rect x="188.4" y="630.8" width="25.2" height="25.0" fill="#727272"/>
<rect x="213.1" y="630.8" width="25.2" height="25.0" fill="#878787"/>
<rect x="237.7" y="630.8" width="25.2" height="25.0" fill="#878787"/>
<rect x="262.3" y="630.8" width="25.2" height="25.0" fill="#878787"/>
<rect x="286.9" y="630.8" width="25.2" height="25.0" fill="#878787"/>
<rect x="311.5" y="630.8" width="25.2" height="25.0" fill="#878787"/>
<rect x="336.1" y="630.8" width="25.2" height="25.0" fill="#727272"/>
<rect x="360.7" y="630.8" width="25.2" height="25.0" fill="#b2b2b2"/>
<rect x="385.4" y="630.8" width="25.2" height="25.0" fill="#9d9d9d"/>
<rect x="410.0" y="630.8" width="25.2" height="25.0" fill="#727272"/>
<rect x="434.6" y="630.8" width="25.2" height="25.0" fill="#878787"/>
<rect x="459.2" y="630.8" width="25.2" height="25.0" fill="#878787"/>
<rect x="483.8" y="630.8" width="25.2" height="25.0" fill="#9d9d9d"/>
<rect x="508.4" y="630.8" width="25.2" height="25.0" fill="#727272"/>
<rect x="533.0" y="630.8" width="25.2" height="25.0" fill="#878787"/>
<rect x="557.6" y="630.8" width="25.2" height="25.0" fill="#878787"/>
<rect x="582.2" y="630.8" width="25.2" height="25.0" fill="#727272"/>
<rect x="606.9" y="630.8" width="25.2" height="25.0" fill="#878787"/>
<rect x="631.5" y="630.8" width="25.2" height="25.0" fill="#878787"/>
<rect x="656.1" y="630.8" width="25.2" height="25.0" fill="#878787"/>
<rect x="680.7" y="630.8" width="25.2" height="25.0" fill="#878787"/>
<rect x="65.4" y="655.3" width="25.2" height="25.0" fill="#9d9d9d"/>
<rect x="90.0" y="655.3" width="25.2" height="25.0" fill="#9d9d9d"/>
<rect x="114.6" y="655.3" width="25.2" height="25.0" fill="#727272"/>
<rect x="139.2" y="655.3" width="25.2" height="25.0" fill="#878787"/>
<rect x="163.8" y="655.3" width="25.2" height="25.0" fill="#9d9d9d"/>
<rect x="188.4" y="655.3" width="25.2" height="25.0" fill="#9d9d9d"/>
<rect x="213.1" y="655.3" width="25.2" height="25.0" fill="#727272"/>
<rect x="237.7" y="655.3" width="25.2" height="25.0" fill="#878787"/>
<rect x="262.3" y="655.3" width="25.2" height="25.0" fill="#9d9d9d"/>
<rect x="286.9" y="655.3" width="25.2" height="25.0" fill="#9d9d9d"/>
<rect x="311.5" y="655.3" width="25.2" height="25.0" fill="#878787"/>
<rect x="336.1" y="655.3" width="25.2" height="25.0" fill="#9d9d9d"/>
<rect x="360.7" y="655.3" width="25.2" height="25.0" fill="#b2b2b2"/>
<rect x="385.4" y="655.3" width="25.2" height="25.0" fill="#878787"/>
<rect x="410.0" y="655.3" width="25.2" height="25.0" fill="#727272"/>
<rect x="434.6" y="655.3" width="25.2" height="25.0" fill="#9d9d9d"/>
<rect x="459.2" y="655.3" width="25.2" height="25.0" fill="#878787"/>
<rect x="483.8" y="655.3" width="25.2" height="25.0" fill="#878787"/>
<rect x="508.4" y="655.3" width="25.2" height="25.0" fill="#727272"/>
<rect x="533.0" y="655.3" width="25.2" height="25.0" fill="#878787"/>
<rect x="557.6" y="655.3" width="25.2" height="25.0" fill="#878787"/>
<rect x="582.2" y="655.3" width="25.2" height="25.0" fill="#878787"/>
<rect x="606.9" y="655.3" width="25.2" height="25.0" fill="#727272"/>
<rect x="631.5" y="655.3" width="25.2" height="25.0" fill="#727272"/>
<rect x="656.1" y="655.3" width="25.2" height="25.0" fill="#878787"/>
<rect x="680.7" y="655.3" width="25.2" height="25.0" fill="#878787"/>
<rect x="65.4" y="679.7" width="25.2" height="25.0" fill="#9d9d9d"/>
<rect x="90.0" y="679.7" width="25.2" height="25.0" fill="#9d9d9d"/>
<rect x="114.6" y="679.7" width="25.2" height="25.0" fill="#727272"/>
<rect x="139.2" y="679.7" width="25.2" height="25.0" fill="#878787"/>
<rect x="163.8" y="679.7" width="25.2" height="25.0" fill="#9d9d9d"/>
<rect x="188.4" y="679.7" width="25.2" height="25.0" fill="#9d9d9d"/>
<rect x="213.1" y="679.7" width="25.2" height="25.0" fill="#727272"/>
<rect x="237.7" y="679.7" width="25.2" height="25.0" fill="#878787"/>
<rect x="262.3" y="679.7" width="25.2" height="25.0" fill="#9d9d9d"/>
<rect x="286.9" y="679.7" width="25.2" height="25.0" fill="#9d9d9d"/>
<rect x="311.5" y="679.7" width="25.2" height="25.0" fill="#878787"/>
<rect x="336.1" y="679.7" width="25.2" height="25.0" fill="#9d9d9d"/>
<rect x="360.7" y="679.7" width="25.2" height="25.0" fill="#b2b2b2"/>
<rect x="385.4" y="679.7" width="25.2" height="25.0" fill="#878787"/>
<rect x="410.0" y="679.7" width="25.2" height="25.0" fill="#727272"/>
<rect x="434.6" y="679.7" width="25.2" height="25.0" fill="#9d9d9d"/>
<rect x="459.2" y="679.7" width="25.2" height="25.0" fill="#878787"/>
<rect x="483.8" y="679.7" width="25.2" height="25.0" fill="#878787"/>
<rect x="508.4" y="679.7" width="25.2" height="25.0" fill="#727272"/>
<rect x="533.0" y="679.7" width="25.2" height="25.0" fill="#878787"/>
<rect x="557.6" y="679.7" width="25.2" height="25.0" fill="#878787"/>
<rect x="582.2" y="679.7" width="25.2" height="25.0" fill="#878787"/>
<rect x="606.9" y="679.7" width="25.2" height="25.0" fill="#727272"/>
<rect x="631.5" y="679.7" width="25.2" height="25.0" fill="#727272"/>
<rect x="656.1" y="679.7" width="25.2" height="25.0" fill="#878787"/>
<rect x="680.7" y="679.7" width="25.2" height="25.0" fill="#878787"/>
</g>
<g filter="url(#fb1)" opacity="0.8">
<ellipse cx="105.0" cy="398.5" rx="11.0" ry="6.0" fill="#2b2b2b"/>
<ellipse cx="171.0" cy="403.5" rx="7.0" ry="3.5" fill="#3b3b3b"/>
<ellipse cx="153.5" cy="442.0" rx="12.5" ry="5.0" fill="#e3e3e3"/>
<ellipse cx="155.0" cy="433.5" rx="11.0" ry="3.5" fill="#4a4a4a"/>
<ellipse cx="187.0" cy="430.5" rx="6.0" ry="3.5" fill="#3b3b3b"/>
<ellipse cx="225.0" cy="502.0" rx="11.0" ry="5.0" fill="#e3e3e3"/>
<ellipse cx="176.0" cy="512.0" rx="12.0" ry="5.0" fill="#d4d4d4"/>
<ellipse cx="96.0" cy="515.5" rx="7.0" ry="3.5" fill="#d4d4d4"/>
<ellipse cx="97.5" cy="529.5" rx="8.5" ry="4.5" fill="#4a4a4a"/>
<ellipse cx="232.5" cy="515.5" rx="8.5" ry="3.5" fill="#4a4a4a"/>
<ellipse cx="103.5" cy="494.5" rx="7.5" ry="4.5" fill="#c4c4c4"/>
<ellipse cx="228.5" cy="468.5" rx="7.5" ry="3.5" fill="#c4c4c4"/>
<ellipse cx="339.0" cy="418.0" rx="16.0" ry="6.0" fill="#3b3b3b"/>
<ellipse cx="338.0" cy="434.5" rx="15.0" ry="7.5" fill="#d4d4d4"/>
<ellipse cx="344.5" cy="449.5" rx="18.5" ry="4.5" fill="#3b3b3b"/>
<ellipse cx="368.0" cy="464.5" rx="20.0" ry="7.5" fill="#d4d4d4"/>
<ellipse cx="372.0" cy="478.5" rx="11.0" ry="3.5" fill="#4a4a4a"/>
<ellipse cx="395.5" cy="494.5" rx="22.5" ry="4.5" fill="#e3e3e3"/>
<ellipse cx="419.5" cy="504.5" rx="18.5" ry="4.5" fill="#3b3b3b"/>
<ellipse cx="477.5" cy="514.5" rx="7.5" ry="4.5" fill="#3b3b3b"/>
<ellipse cx="473.0" cy="441.0" rx="12.0" ry="6.0" fill="#d4d4d4"/>
<ellipse cx="439.5" cy="441.0" rx="18.5" ry="6.0" fill="#c4c4c4"/>
<ellipse cx="463.0" cy="464.5" rx="15.0" ry="4.5" fill="#4a4a4a"/>
<ellipse cx="307.0" cy="415.5" rx="6.0" ry="3.5" fill="#c4c4c4"/>
<ellipse cx="463.0" cy="427.0" rx="7.0" ry="5.0" fill="#4a4a4a"/>
<ellipse cx="510.0" cy="399.5" rx="10.0" ry="4.5" fill="#4a4a4a"/>
<ellipse cx="557.5" cy="395.5" rx="9.5" ry="3.5" fill="#4a4a4a"/>
<ellipse cx="501.5" cy="420.5" rx="8.5" ry="3.5" fill="#c4c4c4"/>
<ellipse cx="545.0" cy="413.0" rx="22.0" ry="6.0" fill="#c4c4c4"/>
<ellipse cx="551.5" cy="428.5" rx="8.5" ry="3.5" fill="#d4d4d4"/>
<ellipse cx="559.0" cy="438.0" rx="16.0" ry="6.0" fill="#1c1c1c"/>
<ellipse cx="551.5" cy="456.0" rx="8.5" ry="6.0" fill="#e3e3e3"/>
<ellipse cx="566.5" cy="449.5" rx="8.5" ry="4.5" fill="#d4d4d4"/>
<ellipse cx="646.5" cy="431.0" rx="13.5" ry="6.0" fill="#c4c4c4"/>
<ellipse cx="670.0" cy="425.5" rx="12.0" ry="8.5" fill="#c4c4c4"/>
<ellipse cx="649.0" cy="447.0" rx="11.0" ry="5.0" fill="#4a4a4a"/>
<ellipse cx="646.5" cy="460.5" rx="13.5" ry="3.5" fill="#d4d4d4"/>
<ellipse cx="669.0" cy="488.5" rx="11.0" ry="3.5" fill="#c4c4c4"/>
<ellipse cx="672.5" cy="523.5" rx="9.5" ry="3.5" fill="#4a4a4a"/>
<ellipse cx="599.0" cy="523.5" rx="6.0" ry="3.5" fill="#d4d4d4"/>
<ellipse cx="596.5" cy="464.5" rx="8.5" ry="4.5" fill="#4a4a4a"/>
<ellipse cx="164.5" cy="554.0" rx="8.5" ry="5.0" fill="#c4c4c4"/>
<ellipse cx="156.0" cy="580.5" rx="10.0" ry="3.5" fill="#d4d4d4"/>
<ellipse cx="237.5" cy="571.5" rx="8.5" ry="4.5" fill="#d4d4d4"/>
<ellipse cx="102.5" cy="610.5" rx="8.5" ry="3.5" fill="#c4c4c4"/>
<ellipse cx="137.5" cy="620.5" rx="8.5" ry="3.5" fill="#4a4a4a"/>
<ellipse cx="139.5" cy="631.5" rx="13.5" ry="4.5" fill="#d4d4d4"/>
<ellipse cx="215.0" cy="630.5" rx="6.0" ry="3.5" fill="#1c1c1c"/>
<ellipse cx="213.5" cy="641.5" rx="7.5" ry="4.5" fill="#e3e3e3"/>
<ellipse cx="218.5" cy="655.5" rx="7.5" ry="3.5" fill="#4a4a4a"/>
<ellipse cx="187.5" cy="646.5" rx="8.5" ry="4.5" fill="#4a4a4a"/>
<ellipse cx="190.0" cy="661.5" rx="6.0" ry="4.5" fill="#c4c4c4"/>
<ellipse cx="258.5" cy="610.5" rx="7.5" ry="3.5" fill="#4a4a4a"/>
<ellipse cx="333.0" cy="551.5" rx="10.0" ry="4.5" fill="#c4c4c4"/>
<ellipse cx="424.5" cy="579.0" rx="13.5" ry="5.0" fill="#d4d4d4"/>
<ellipse cx="440.5" cy="545.5" rx="7.5" ry="3.5" fill="#d4d4d4"/>
<ellipse cx="350.5" cy="611.5" rx="7.5" ry="7.5" fill="#c4c4c4"/>
<ellipse cx="390.5" cy="628.0" rx="9.5" ry="6.0" fill="#e3e3e3"/>
<ellipse cx="404.5" cy="635.5" rx="8.5" ry="3.5" fill="#c4c4c4"/>
<ellipse cx="437.0" cy="641.5" rx="11.0" ry="4.5" fill="#4a4a4a"/>
<ellipse cx="349.5" cy="662.5" rx="13.5" ry="3.5" fill="#d4d4d4"/>
<ellipse cx="389.5" cy="661.5" rx="8.5" ry="4.5" fill="#e3e3e3"/>
<ellipse cx="427.0" cy="661.5" rx="11.0" ry="4.5" fill="#4a4a4a"/>
<ellipse cx="404.5" cy="606.5" rx="8.5" ry="2.5" fill="#4a4a4a"/>
<ellipse cx="533.5" cy="549.0" rx="13.5" ry="5.0" fill="#2b2b2b"/>
<ellipse cx="499.0" cy="555.5" rx="6.0" ry="3.5" fill="#4a4a4a"/>
<ellipse cx="535.0" cy="561.5" rx="10.0" ry="4.5" fill="#d4d4d4"/>
<ellipse cx="507.5" cy="564.0" rx="14.5" ry="5.0" fill="#c4c4c4"/>
<ellipse cx="596.5" cy="564.0" rx="13.5" ry="5.0" fill="#c4c4c4"/>
<ellipse cx="531.5" cy="578.0" rx="8.5" ry="3.0" fill="#4a4a4a"/>
<ellipse cx="668.5" cy="540.0" rx="13.5" ry="6.0" fill="#c4c4c4"/>
<ellipse cx="622.5" cy="607.5" rx="7.5" ry="3.5" fill="#2b2b2b"/>
<ellipse cx="621.5" cy="617.5" rx="8.5" ry="3.5" fill="#d4d4d4"/>
<ellipse cx="667.0" cy="615.0" rx="7.0" ry="6.0" fill="#c4c4c4"/>
<ellipse cx="666.0" cy="602.5" rx="8.0" ry="3.5" fill="#4a4a4a"/>
<ellipse cx="498.5" cy="630.5" rx="8.5" ry="3.5" fill="#c4c4c4"/>
<ellipse cx="544.0" cy="635.5" rx="11.0" ry="3.5" fill="#c4c4c4"/>
<ellipse cx="555.0" cy="645.5" rx="10.0" ry="3.5" fill="#4a4a4a"/>
<ellipse cx="555.0" cy="657.5" rx="7.0" ry="3.5" fill="#d4d4d4"/>
<ellipse cx="631.5" cy="670.5" rx="8.5" ry="3.5" fill="#4a4a4a"/>
<ellipse cx="652.5" cy="669.0" rx="7.5" ry="2.0" fill="#4a4a4a"/>
</g>
</g></g>
<rect x="90.25" y="386.65" width="590.20" height="292.80" fill="none" stroke="#9a9a9a" stroke-width="0.5"/>
<line x1="187.71" y1="679.7" x2="187.71" y2="673.7" stroke="#333" stroke-width="0.7" opacity="0.6"/>
<line x1="187.71" y1="386.4" x2="187.71" y2="392.4" stroke="#333" stroke-width="0.7" opacity="0.6"/>
<text x="187.71" y="703.70" text-anchor="middle" class="tk">500</text>
<line x1="286.16" y1="679.7" x2="286.16" y2="673.7" stroke="#333" stroke-width="0.7" opacity="0.6"/>
<line x1="286.16" y1="386.4" x2="286.16" y2="392.4" stroke="#333" stroke-width="0.7" opacity="0.6"/>
<text x="286.16" y="703.70" text-anchor="middle" class="tk">1000</text>
<line x1="384.61" y1="679.7" x2="384.61" y2="673.7" stroke="#333" stroke-width="0.7" opacity="0.6"/>
<line x1="384.61" y1="386.4" x2="384.61" y2="392.4" stroke="#333" stroke-width="0.7" opacity="0.6"/>
<text x="384.61" y="703.70" text-anchor="middle" class="tk">1500</text>
<line x1="483.06" y1="679.7" x2="483.06" y2="673.7" stroke="#333" stroke-width="0.7" opacity="0.6"/>
<line x1="483.06" y1="386.4" x2="483.06" y2="392.4" stroke="#333" stroke-width="0.7" opacity="0.6"/>
<text x="483.06" y="703.70" text-anchor="middle" class="tk">2000</text>
<line x1="581.51" y1="679.7" x2="581.51" y2="673.7" stroke="#333" stroke-width="0.7" opacity="0.6"/>
<line x1="581.51" y1="386.4" x2="581.51" y2="392.4" stroke="#333" stroke-width="0.7" opacity="0.6"/>
<text x="581.51" y="703.70" text-anchor="middle" class="tk">2500</text>
<line x1="679.96" y1="679.7" x2="679.96" y2="673.7" stroke="#333" stroke-width="0.7" opacity="0.6"/>
<line x1="679.96" y1="386.4" x2="679.96" y2="392.4" stroke="#333" stroke-width="0.7" opacity="0.6"/>
<text x="679.96" y="703.70" text-anchor="middle" class="tk">3000</text>
<line x1="90.0" y1="459.36" x2="96.0" y2="459.36" stroke="#333" stroke-width="0.7" opacity="0.6"/>
<line x1="680.7" y1="459.36" x2="674.7" y2="459.36" stroke="#333" stroke-width="0.7" opacity="0.6"/>
<text x="83.40" y="463.66" text-anchor="end" class="tk">100</text>
<line x1="90.0" y1="532.68" x2="96.0" y2="532.68" stroke="#333" stroke-width="0.7" opacity="0.6"/>
<line x1="680.7" y1="532.68" x2="674.7" y2="532.68" stroke="#333" stroke-width="0.7" opacity="0.6"/>
<text x="83.40" y="536.98" text-anchor="end" class="tk">200</text>
<line x1="90.0" y1="606.01" x2="96.0" y2="606.01" stroke="#333" stroke-width="0.7" opacity="0.6"/>
<line x1="680.7" y1="606.01" x2="674.7" y2="606.01" stroke="#333" stroke-width="0.7" opacity="0.6"/>
<text x="83.40" y="610.31" text-anchor="end" class="tk">300</text>
<line x1="90.0" y1="679.33" x2="96.0" y2="679.33" stroke="#333" stroke-width="0.7" opacity="0.6"/>
<line x1="680.7" y1="679.33" x2="674.7" y2="679.33" stroke="#333" stroke-width="0.7" opacity="0.6"/>
<text x="83.40" y="683.63" text-anchor="end" class="tk">400</text>
<rect x="707.1" y="386.4" width="11.30" height="293.30" fill="url(#jetgrad)"/>
<rect x="707.35" y="386.65" width="10.80" height="292.80" fill="none" stroke="#9a9a9a" stroke-width="0.5"/>
<line x1="715.90" y1="397.90" x2="718.40" y2="397.90" stroke="#333" stroke-width="0.7" opacity="0.5"/>
<text x="724.90" y="402.80" class="cbt">2</text>
<line x1="715.90" y1="462.30" x2="718.40" y2="462.30" stroke="#333" stroke-width="0.7" opacity="0.5"/>
<text x="724.90" y="467.20" class="cbt">1</text>
<line x1="715.90" y1="526.70" x2="718.40" y2="526.70" stroke="#333" stroke-width="0.7" opacity="0.5"/>
<text x="724.90" y="531.60" class="cbt">0</text>
<line x1="715.90" y1="591.10" x2="718.40" y2="591.10" stroke="#333" stroke-width="0.7" opacity="0.5"/>
<text x="724.90" y="596.00" class="cbt">-1</text>
<line x1="715.90" y1="655.50" x2="718.40" y2="655.50" stroke="#333" stroke-width="0.7" opacity="0.5"/>
<text x="724.90" y="660.40" class="cbt">-2</text>
<text x="401.50" y="735.90" text-anchor="middle" class="lab">(b)</text>
<clipPath id="cp2"><rect x="90.0" y="756.6" width="590.70" height="293.10"/></clipPath>
<g clip-path="url(#cp2)"><g filter="url(#hf2)">
<g filter="url(#gb2)">
<rect x="65.4" y="732.2" width="25.2" height="25.0" fill="#616161"/>
<rect x="90.0" y="732.2" width="25.2" height="25.0" fill="#616161"/>
<rect x="114.6" y="732.2" width="25.2" height="25.0" fill="#868686"/>
<rect x="139.2" y="732.2" width="25.2" height="25.0" fill="#616161"/>
<rect x="163.8" y="732.2" width="25.2" height="25.0" fill="#747474"/>
<rect x="188.4" y="732.2" width="25.2" height="25.0" fill="#868686"/>
<rect x="213.1" y="732.2" width="25.2" height="25.0" fill="#868686"/>
<rect x="237.7" y="732.2" width="25.2" height="25.0" fill="#747474"/>
<rect x="262.3" y="732.2" width="25.2" height="25.0" fill="#868686"/>
<rect x="286.9" y="732.2" width="25.2" height="25.0" fill="#ababab"/>
<rect x="311.5" y="732.2" width="25.2" height="25.0" fill="#989898"/>
<rect x="336.1" y="732.2" width="25.2" height="25.0" fill="#ababab"/>
<rect x="360.7" y="732.2" width="25.2" height="25.0" fill="#989898"/>
<rect x="385.4" y="732.2" width="25.2" height="25.0" fill="#747474"/>
<rect x="410.0" y="732.2" width="25.2" height="25.0" fill="#747474"/>
<rect x="434.6" y="732.2" width="25.2" height="25.0" fill="#868686"/>
<rect x="459.2" y="732.2" width="25.2" height="25.0" fill="#868686"/>
<rect x="483.8" y="732.2" width="25.2" height="25.0" fill="#ababab"/>
<rect x="508.4" y="732.2" width="25.2" height="25.0" fill="#bdbdbd"/>
<rect x="533.0" y="732.2" width="25.2" height="25.0" fill="#989898"/>
<rect x="557.6" y="732.2" width="25.2" height="25.0" fill="#ababab"/>
<rect x="582.2" y="732.2" width="25.2" height="25.0" fill="#989898"/>
<rect x="606.9" y="732.2" width="25.2" height="25.0" fill="#616161"/>
<rect x="631.5" y="732.2" width="25.2" height="25.0" fill="#4f4f4f"/>
<rect x="656.1" y="732.2" width="25.2" height="25.0" fill="#616161"/>
<rect x="680.7" y="732.2" width="25.2" height="25.0" fill="#616161"/>
<rect x="65.4" y="756.6" width="25.2" height="25.0" fill="#616161"/>
<rect x="90.0" y="756.6" width="25.2" height="25.0" fill="#616161"/>
<rect x="114.6" y="756.6" width="25.2" height="25.0" fill="#868686"/>
<rect x="139.2" y="756.6" width="25.2" height="25.0" fill="#616161"/>
<rect x="163.8" y="756.6" width="25.2" height="25.0" fill="#747474"/>
<rect x="188.4" y="756.6" width="25.2" height="25.0" fill="#868686"/>
<rect x="213.1" y="756.6" width="25.2" height="25.0" fill="#868686"/>
<rect x="237.7" y="756.6" width="25.2" height="25.0" fill="#747474"/>
<rect x="262.3" y="756.6" width="25.2" height="25.0" fill="#868686"/>
<rect x="286.9" y="756.6" width="25.2" height="25.0" fill="#ababab"/>
<rect x="311.5" y="756.6" width="25.2" height="25.0" fill="#989898"/>
<rect x="336.1" y="756.6" width="25.2" height="25.0" fill="#ababab"/>
<rect x="360.7" y="756.6" width="25.2" height="25.0" fill="#989898"/>
<rect x="385.4" y="756.6" width="25.2" height="25.0" fill="#747474"/>
<rect x="410.0" y="756.6" width="25.2" height="25.0" fill="#747474"/>
<rect x="434.6" y="756.6" width="25.2" height="25.0" fill="#868686"/>
<rect x="459.2" y="756.6" width="25.2" height="25.0" fill="#868686"/>
<rect x="483.8" y="756.6" width="25.2" height="25.0" fill="#ababab"/>
<rect x="508.4" y="756.6" width="25.2" height="25.0" fill="#bdbdbd"/>
<rect x="533.0" y="756.6" width="25.2" height="25.0" fill="#989898"/>
<rect x="557.6" y="756.6" width="25.2" height="25.0" fill="#ababab"/>
<rect x="582.2" y="756.6" width="25.2" height="25.0" fill="#989898"/>
<rect x="606.9" y="756.6" width="25.2" height="25.0" fill="#616161"/>
<rect x="631.5" y="756.6" width="25.2" height="25.0" fill="#4f4f4f"/>
<rect x="656.1" y="756.6" width="25.2" height="25.0" fill="#616161"/>
<rect x="680.7" y="756.6" width="25.2" height="25.0" fill="#616161"/>
<rect x="65.4" y="781.0" width="25.2" height="25.0" fill="#ababab"/>
<rect x="90.0" y="781.0" width="25.2" height="25.0" fill="#ababab"/>
<rect x="114.6" y="781.0" width="25.2" height="25.0" fill="#989898"/>
<rect x="139.2" y="781.0" width="25.2" height="25.0" fill="#ababab"/>
<rect x="163.8" y="781.0" width="25.2" height="25.0" fill="#989898"/>
<rect x="188.4" y="781.0" width="25.2" height="25.0" fill="#989898"/>
<rect x="213.1" y="781.0" width="25.2" height="25.0" fill="#747474"/>
<rect x="237.7" y="781.0" width="25.2" height="25.0" fill="#868686"/>
<rect x="262.3" y="781.0" width="25.2" height="25.0" fill="#989898"/>
<rect x="286.9" y="781.0" width="25.2" height="25.0" fill="#616161"/>
<rect x="311.5" y="781.0" width="25.2" height="25.0" fill="#747474"/>
<rect x="336.1" y="781.0" width="25.2" height="25.0" fill="#616161"/>
<rect x="360.7" y="781.0" width="25.2" height="25.0" fill="#747474"/>
<rect x="385.4" y="781.0" width="25.2" height="25.0" fill="#868686"/>
<rect x="410.0" y="781.0" width="25.2" height="25.0" fill="#989898"/>
<rect x="434.6" y="781.0" width="25.2" height="25.0" fill="#868686"/>
<rect x="459.2" y="781.0" width="25.2" height="25.0" fill="#747474"/>
<rect x="483.8" y="781.0" width="25.2" height="25.0" fill="#747474"/>
<rect x="508.4" y="781.0" width="25.2" height="25.0" fill="#4f4f4f"/>
<rect x="533.0" y="781.0" width="25.2" height="25.0" fill="#868686"/>
<rect x="557.6" y="781.0" width="25.2" height="25.0" fill="#747474"/>
<rect x="582.2" y="781.0" width="25.2" height="25.0" fill="#868686"/>
<rect x="606.9" y="781.0" width="25.2" height="25.0" fill="#ababab"/>
<rect x="631.5" y="781.0" width="25.2" height="25.0" fill="#ababab"/>
<rect x="656.1" y="781.0" width="25.2" height="25.0" fill="#989898"/>
<rect x="680.7" y="781.0" width="25.2" height="25.0" fill="#989898"/>
<rect x="65.4" y="805.5" width="25.2" height="25.0" fill="#616161"/>
<rect x="90.0" y="805.5" width="25.2" height="25.0" fill="#616161"/>
<rect x="114.6" y="805.5" width="25.2" height="25.0" fill="#616161"/>
<rect x="139.2" y="805.5" width="25.2" height="25.0" fill="#868686"/>
<rect x="163.8" y="805.5" width="25.2" height="25.0" fill="#747474"/>
<rect x="188.4" y="805.5" width="25.2" height="25.0" fill="#868686"/>
<rect x="213.1" y="805.5" width="25.2" height="25.0" fill="#868686"/>
<rect x="237.7" y="805.5" width="25.2" height="25.0" fill="#989898"/>
<rect x="262.3" y="805.5" width="25.2" height="25.0" fill="#989898"/>
<rect x="286.9" y="805.5" width="25.2" height="25.0" fill="#868686"/>
<rect x="311.5" y="805.5" width="25.2" height="25.0" fill="#868686"/>
<rect x="336.1" y="805.5" width="25.2" height="25.0" fill="#868686"/>
<rect x="360.7" y="805.5" width="25.2" height="25.0" fill="#868686"/>
<rect x="385.4" y="805.5" width="25.2" height="25.0" fill="#989898"/>
<rect x="410.0" y="805.5" width="25.2" height="25.0" fill="#868686"/>
<rect x="434.6" y="805.5" width="25.2" height="25.0" fill="#868686"/>
<rect x="459.2" y="805.5" width="25.2" height="25.0" fill="#989898"/>
<rect x="483.8" y="805.5" width="25.2" height="25.0" fill="#868686"/>
<rect x="508.4" y="805.5" width="25.2" height="25.0" fill="#ababab"/>
<rect x="533.0" y="805.5" width="25.2" height="25.0" fill="#868686"/>
<rect x="557.6" y="805.5" width="25.2" height="25.0" fill="#868686"/>
<rect x="582.2" y="805.5" width="25.2" height="25.0" fill="#868686"/>
<rect x="606.9" y="805.5" width="25.2" height="25.0" fill="#747474"/>
<rect x="631.5" y="805.5" width="25.2" height="25.0" fill="#868686"/>
<rect x="656.1" y="805.5" width="25.2" height="25.0" fill="#747474"/>
<rect x="680.7" y="805.5" width="25.2" height="25.0" fill="#747474"/>
<rect x="65.4" y="829.9" width="25.2" height="25.0" fill="#868686"/>
<rect x="90.0" y="829.9" width="25.2" height="25.0" fill="#868686"/>
<rect x="114.6" y="829.9" width="25.2" height="25.0" fill="#747474"/>
<rect x="139.2" y="829.9" width="25.2" height="25.0" fill="#989898"/>
<rect x="163.8" y="829.9" width="25.2" height="25.0" fill="#989898"/>
<rect x="188.4" y="829.9" width="25.2" height="25.0" fill="#ababab"/>
<rect x="213.1" y="829.9" width="25.2" height="25.0" fill="#ababab"/>
<rect x="237.7" y="829.9" width="25.2" height="25.0" fill="#ababab"/>
<rect x="262.3" y="829.9" width="25.2" height="25.0" fill="#868686"/>
<rect x="286.9" y="829.9" width="25.2" height="25.0" fill="#ababab"/>
<rect x="311.5" y="829.9" width="25.2" height="25.0" fill="#747474"/>
<rect x="336.1" y="829.9" width="25.2" height="25.0" fill="#868686"/>
<rect x="360.7" y="829.9" width="25.2" height="25.0" fill="#868686"/>
<rect x="385.4" y="829.9" width="25.2" height="25.0" fill="#868686"/>
<rect x="410.0" y="829.9" width="25.2" height="25.0" fill="#747474"/>
<rect x="434.6" y="829.9" width="25.2" height="25.0" fill="#747474"/>
<rect x="459.2" y="829.9" width="25.2" height="25.0" fill="#747474"/>
<rect x="483.8" y="829.9" width="25.2" height="25.0" fill="#868686"/>
<rect x="508.4" y="829.9" width="25.2" height="25.0" fill="#989898"/>
<rect x="533.0" y="829.9" width="25.2" height="25.0" fill="#989898"/>
<rect x="557.6" y="829.9" width="25.2" height="25.0" fill="#868686"/>
<rect x="582.2" y="829.9" width="25.2" height="25.0" fill="#868686"/>
<rect x="606.9" y="829.9" width="25.2" height="25.0" fill="#616161"/>
<rect x="631.5" y="829.9" width="25.2" height="25.0" fill="#747474"/>
<rect x="656.1" y="829.9" width="25.2" height="25.0" fill="#616161"/>
<rect x="680.7" y="829.9" width="25.2" height="25.0" fill="#616161"/>
<rect x="65.4" y="854.3" width="25.2" height="25.0" fill="#868686"/>
<rect x="90.0" y="854.3" width="25.2" height="25.0" fill="#868686"/>
<rect x="114.6" y="854.3" width="25.2" height="25.0" fill="#ababab"/>
<rect x="139.2" y="854.3" width="25.2" height="25.0" fill="#747474"/>
<rect x="163.8" y="854.3" width="25.2" height="25.0" fill="#747474"/>
<rect x="188.4" y="854.3" width="25.2" height="25.0" fill="#747474"/>
<rect x="213.1" y="854.3" width="25.2" height="25.0" fill="#4f4f4f"/>
<rect x="237.7" y="854.3" width="25.2" height="25.0" fill="#4f4f4f"/>
<rect x="262.3" y="854.3" width="25.2" height="25.0" fill="#616161"/>
<rect x="286.9" y="854.3" width="25.2" height="25.0" fill="#616161"/>
<rect x="311.5" y="854.3" width="25.2" height="25.0" fill="#868686"/>
<rect x="336.1" y="854.3" width="25.2" height="25.0" fill="#868686"/>
<rect x="360.7" y="854.3" width="25.2" height="25.0" fill="#747474"/>
<rect x="385.4" y="854.3" width="25.2" height="25.0" fill="#747474"/>
<rect x="410.0" y="854.3" width="25.2" height="25.0" fill="#747474"/>
<rect x="434.6" y="854.3" width="25.2" height="25.0" fill="#868686"/>
<rect x="459.2" y="854.3" width="25.2" height="25.0" fill="#989898"/>
<rect x="483.8" y="854.3" width="25.2" height="25.0" fill="#616161"/>
<rect x="508.4" y="854.3" width="25.2" height="25.0" fill="#747474"/>
<rect x="533.0" y="854.3" width="25.2" height="25.0" fill="#868686"/>
<rect x="557.6" y="854.3" width="25.2" height="25.0" fill="#747474"/>
<rect x="582.2" y="854.3" width="25.2" height="25.0" fill="#989898"/>
<rect x="606.9" y="854.3" width="25.2" height="25.0" fill="#989898"/>
<rect x="631.5" y="854.3" width="25.2" height="25.0" fill="#989898"/>
<rect x="656.1" y="854.3" width="25.2" height="25.0" fill="#747474"/>
<rect x="680.7" y="854.3" width="25.2" height="25.0" fill="#747474"/>
<rect x="65.4" y="878.7" width="25.2" height="25.0" fill="#747474"/>
<rect x="90.0" y="878.7" width="25.2" height="25.0" fill="#747474"/>
<rect x="114.6" y="878.7" width="25.2" height="25.0" fill="#616161"/>
<rect x="139.2" y="878.7" width="25.2" height="25.0" fill="#868686"/>
<rect x="163.8" y="878.7" width="25.2" height="25.0" fill="#868686"/>
<rect x="188.4" y="878.7" width="25.2" height="25.0" fill="#868686"/>
<rect x="213.1" y="878.7" width="25.2" height="25.0" fill="#989898"/>
<rect x="237.7" y="878.7" width="25.2" height="25.0" fill="#868686"/>
<rect x="262.3" y="878.7" width="25.2" height="25.0" fill="#868686"/>
<rect x="286.9" y="878.7" width="25.2" height="25.0" fill="#747474"/>
<rect x="311.5" y="878.7" width="25.2" height="25.0" fill="#868686"/>
<rect x="336.1" y="878.7" width="25.2" height="25.0" fill="#989898"/>
<rect x="360.7" y="878.7" width="25.2" height="25.0" fill="#ababab"/>
<rect x="385.4" y="878.7" width="25.2" height="25.0" fill="#989898"/>
<rect x="410.0" y="878.7" width="25.2" height="25.0" fill="#868686"/>
<rect x="434.6" y="878.7" width="25.2" height="25.0" fill="#989898"/>
<rect x="459.2" y="878.7" width="25.2" height="25.0" fill="#989898"/>
<rect x="483.8" y="878.7" width="25.2" height="25.0" fill="#989898"/>
<rect x="508.4" y="878.7" width="25.2" height="25.0" fill="#868686"/>
<rect x="533.0" y="878.7" width="25.2" height="25.0" fill="#747474"/>
<rect x="557.6" y="878.7" width="25.2" height="25.0" fill="#747474"/>
<rect x="582.2" y="878.7" width="25.2" height="25.0" fill="#616161"/>
<rect x="606.9" y="878.7" width="25.2" height="25.0" fill="#868686"/>
<rect x="631.5" y="878.7" width="25.2" height="25.0" fill="#989898"/>
<rect x="656.1" y="878.7" width="25.2" height="25.0" fill="#989898"/>
<rect x="680.7" y="878.7" width="25.2" height="25.0" fill="#989898"/>
<rect x="65.4" y="903.2" width="25.2" height="25.0" fill="#747474"/>
<rect x="90.0" y="903.2" width="25.2" height="25.0" fill="#747474"/>
<rect x="114.6" y="903.2" width="25.2" height="25.0" fill="#989898"/>
<rect x="139.2" y="903.2" width="25.2" height="25.0" fill="#868686"/>
<rect x="163.8" y="903.2" width="25.2" height="25.0" fill="#989898"/>
<rect x="188.4" y="903.2" width="25.2" height="25.0" fill="#989898"/>
<rect x="213.1" y="903.2" width="25.2" height="25.0" fill="#989898"/>
<rect x="237.7" y="903.2" width="25.2" height="25.0" fill="#747474"/>
<rect x="262.3" y="903.2" width="25.2" height="25.0" fill="#ababab"/>
<rect x="286.9" y="903.2" width="25.2" height="25.0" fill="#ababab"/>
<rect x="311.5" y="903.2" width="25.2" height="25.0" fill="#868686"/>
<rect x="336.1" y="903.2" width="25.2" height="25.0" fill="#747474"/>
<rect x="360.7" y="903.2" width="25.2" height="25.0" fill="#616161"/>
<rect x="385.4" y="903.2" width="25.2" height="25.0" fill="#616161"/>
<rect x="410.0" y="903.2" width="25.2" height="25.0" fill="#747474"/>
<rect x="434.6" y="903.2" width="25.2" height="25.0" fill="#868686"/>
<rect x="459.2" y="903.2" width="25.2" height="25.0" fill="#989898"/>
<rect x="483.8" y="903.2" width="25.2" height="25.0" fill="#868686"/>
<rect x="508.4" y="903.2" width="25.2" height="25.0" fill="#747474"/>
<rect x="533.0" y="903.2" width="25.2" height="25.0" fill="#868686"/>
<rect x="557.6" y="903.2" width="25.2" height="25.0" fill="#868686"/>
<rect x="582.2" y="903.2" width="25.2" height="25.0" fill="#868686"/>
<rect x="606.9" y="903.2" width="25.2" height="25.0" fill="#747474"/>
<rect x="631.5" y="903.2" width="25.2" height="25.0" fill="#868686"/>
<rect x="656.1" y="903.2" width="25.2" height="25.0" fill="#747474"/>
<rect x="680.7" y="903.2" width="25.2" height="25.0" fill="#747474"/>
<rect x="65.4" y="927.6" width="25.2" height="25.0" fill="#ababab"/>
<rect x="90.0" y="927.6" width="25.2" height="25.0" fill="#ababab"/>
<rect x="114.6" y="927.6" width="25.2" height="25.0" fill="#989898"/>
<rect x="139.2" y="927.6" width="25.2" height="25.0" fill="#616161"/>
<rect x="163.8" y="927.6" width="25.2" height="25.0" fill="#747474"/>
<rect x="188.4" y="927.6" width="25.2" height="25.0" fill="#868686"/>
<rect x="213.1" y="927.6" width="25.2" height="25.0" fill="#989898"/>
<rect x="237.7" y="927.6" width="25.2" height="25.0" fill="#868686"/>
<rect x="262.3" y="927.6" width="25.2" height="25.0" fill="#747474"/>
<rect x="286.9" y="927.6" width="25.2" height="25.0" fill="#868686"/>
<rect x="311.5" y="927.6" width="25.2" height="25.0" fill="#989898"/>
<rect x="336.1" y="927.6" width="25.2" height="25.0" fill="#989898"/>
<rect x="360.7" y="927.6" width="25.2" height="25.0" fill="#bdbdbd"/>
<rect x="385.4" y="927.6" width="25.2" height="25.0" fill="#989898"/>
<rect x="410.0" y="927.6" width="25.2" height="25.0" fill="#868686"/>
<rect x="434.6" y="927.6" width="25.2" height="25.0" fill="#747474"/>
<rect x="459.2" y="927.6" width="25.2" height="25.0" fill="#747474"/>
<rect x="483.8" y="927.6" width="25.2" height="25.0" fill="#747474"/>
<rect x="508.4" y="927.6" width="25.2" height="25.0" fill="#747474"/>
<rect x="533.0" y="927.6" width="25.2" height="25.0" fill="#989898"/>
<rect x="557.6" y="927.6" width="25.2" height="25.0" fill="#989898"/>
<rect x="582.2" y="927.6" width="25.2" height="25.0" fill="#747474"/>
<rect x="606.9" y="927.6" width="25.2" height="25.0" fill="#989898"/>
<rect x="631.5" y="927.6" width="25.2" height="25.0" fill="#989898"/>
<rect x="656.1" y="927.6" width="25.2" height="25.0" fill="#989898"/>
<rect x="680.7" y="927.6" width="25.2" height="25.0" fill="#989898"/>
<rect x="65.4" y="952.0" width="25.2" height="25.0" fill="#747474"/>
<rect x="90.0" y="952.0" width="25.2" height="25.0" fill="#747474"/>
<rect x="114.6" y="952.0" width="25.2" height="25.0" fill="#747474"/>
<rect x="139.2" y="952.0" width="25.2" height="25.0" fill="#616161"/>
<rect x="163.8" y="952.0" width="25.2" height="25.0" fill="#989898"/>
<rect x="188.4" y="952.0" width="25.2" height="25.0" fill="#868686"/>
<rect x="213.1" y="952.0" width="25.2" height="25.0" fill="#747474"/>
<rect x="237.7" y="952.0" width="25.2" height="25.0" fill="#616161"/>
<rect x="262.3" y="952.0" width="25.2" height="25.0" fill="#989898"/>
<rect x="286.9" y="952.0" width="25.2" height="25.0" fill="#616161"/>
<rect x="311.5" y="952.0" width="25.2" height="25.0" fill="#747474"/>
<rect x="336.1" y="952.0" width="25.2" height="25.0" fill="#868686"/>
<rect x="360.7" y="952.0" width="25.2" height="25.0" fill="#868686"/>
<rect x="385.4" y="952.0" width="25.2" height="25.0" fill="#868686"/>
<rect x="410.0" y="952.0" width="25.2" height="25.0" fill="#989898"/>
<rect x="434.6" y="952.0" width="25.2" height="25.0" fill="#989898"/>
<rect x="459.2" y="952.0" width="25.2" height="25.0" fill="#ababab"/>
<rect x="483.8" y="952.0" width="25.2" height="25.0" fill="#ababab"/>
<rect x="508.4" y="952.0" width="25.2" height="25.0" fill="#868686"/>
<rect x="533.0" y="952.0" width="25.2" height="25.0" fill="#747474"/>
<rect x="557.6" y="952.0" width="25.2" height="25.0" fill="#4f4f4f"/>
<rect x="582.2" y="952.0" width="25.2" height="25.0" fill="#868686"/>
<rect x="606.9" y="952.0" width="25.2" height="25.0" fill="#747474"/>
<rect x="631.5" y="952.0" width="25.2" height="25.0" fill="#868686"/>
<rect x="656.1" y="952.0" width="25.2" height="25.0" fill="#989898"/>
<rect x="680.7" y="952.0" width="25.2" height="25.0" fill="#989898"/>
<rect x="65.4" y="976.4" width="25.2" height="25.0" fill="#868686"/>
<rect x="90.0" y="976.4" width="25.2" height="25.0" fill="#868686"/>
<rect x="114.6" y="976.4" width="25.2" height="25.0" fill="#747474"/>
<rect x="139.2" y="976.4" width="25.2" height="25.0" fill="#747474"/>
<rect x="163.8" y="976.4" width="25.2" height="25.0" fill="#4f4f4f"/>
<rect x="188.4" y="976.4" width="25.2" height="25.0" fill="#747474"/>
<rect x="213.1" y="976.4" width="25.2" height="25.0" fill="#868686"/>
<rect x="237.7" y="976.4" width="25.2" height="25.0" fill="#ababab"/>
<rect x="262.3" y="976.4" width="25.2" height="25.0" fill="#747474"/>
<rect x="286.9" y="976.4" width="25.2" height="25.0" fill="#868686"/>
<rect x="311.5" y="976.4" width="25.2" height="25.0" fill="#989898"/>
<rect x="336.1" y="976.4" width="25.2" height="25.0" fill="#616161"/>
<rect x="360.7" y="976.4" width="25.2" height="25.0" fill="#989898"/>
<rect x="385.4" y="976.4" width="25.2" height="25.0" fill="#989898"/>
<rect x="410.0" y="976.4" width="25.2" height="25.0" fill="#868686"/>
<rect x="434.6" y="976.4" width="25.2" height="25.0" fill="#616161"/>
<rect x="459.2" y="976.4" width="25.2" height="25.0" fill="#616161"/>
<rect x="483.8" y="976.4" width="25.2" height="25.0" fill="#868686"/>
<rect x="508.4" y="976.4" width="25.2" height="25.0" fill="#bdbdbd"/>
<rect x="533.0" y="976.4" width="25.2" height="25.0" fill="#ababab"/>
<rect x="557.6" y="976.4" width="25.2" height="25.0" fill="#ababab"/>
<rect x="582.2" y="976.4" width="25.2" height="25.0" fill="#868686"/>
<rect x="606.9" y="976.4" width="25.2" height="25.0" fill="#989898"/>
<rect x="631.5" y="976.4" width="25.2" height="25.0" fill="#747474"/>
<rect x="656.1" y="976.4" width="25.2" height="25.0" fill="#868686"/>
<rect x="680.7" y="976.4" width="25.2" height="25.0" fill="#868686"/>
<rect x="65.4" y="1000.9" width="25.2" height="25.0" fill="#989898"/>
<rect x="90.0" y="1000.9" width="25.2" height="25.0" fill="#989898"/>
<rect x="114.6" y="1000.9" width="25.2" height="25.0" fill="#989898"/>
<rect x="139.2" y="1000.9" width="25.2" height="25.0" fill="#868686"/>
<rect x="163.8" y="1000.9" width="25.2" height="25.0" fill="#989898"/>
<rect x="188.4" y="1000.9" width="25.2" height="25.0" fill="#989898"/>
<rect x="213.1" y="1000.9" width="25.2" height="25.0" fill="#868686"/>
<rect x="237.7" y="1000.9" width="25.2" height="25.0" fill="#747474"/>
<rect x="262.3" y="1000.9" width="25.2" height="25.0" fill="#747474"/>
<rect x="286.9" y="1000.9" width="25.2" height="25.0" fill="#868686"/>
<rect x="311.5" y="1000.9" width="25.2" height="25.0" fill="#868686"/>
<rect x="336.1" y="1000.9" width="25.2" height="25.0" fill="#747474"/>
<rect x="360.7" y="1000.9" width="25.2" height="25.0" fill="#ababab"/>
<rect x="385.4" y="1000.9" width="25.2" height="25.0" fill="#747474"/>
<rect x="410.0" y="1000.9" width="25.2" height="25.0" fill="#747474"/>
<rect x="434.6" y="1000.9" width="25.2" height="25.0" fill="#989898"/>
<rect x="459.2" y="1000.9" width="25.2" height="25.0" fill="#989898"/>
<rect x="483.8" y="1000.9" width="25.2" height="25.0" fill="#4f4f4f"/>
<rect x="508.4" y="1000.9" width="25.2" height="25.0" fill="#747474"/>
<rect x="533.0" y="1000.9" width="25.2" height="25.0" fill="#868686"/>
<rect x="557.6" y="1000.9" width="25.2" height="25.0" fill="#989898"/>
<rect x="582.2" y="1000.9" width="25.2" height="25.0" fill="#989898"/>
<rect x="606.9" y="1000.9" width="25.2" height="25.0" fill="#989898"/>
<rect x="631.5" y="1000.9" width="25.2" height="25.0" fill="#868686"/>
<rect x="656.1" y="1000.9" width="25.2" height="25.0" fill="#989898"/>
<rect x="680.7" y="1000.9" width="25.2" height="25.0" fill="#989898"/>
<rect x="65.4" y="1025.3" width="25.2" height="25.0" fill="#747474"/>
<rect x="90.0" y="1025.3" width="25.2" height="25.0" fill="#747474"/>
<rect x="114.6" y="1025.3" width="25.2" height="25.0" fill="#616161"/>
<rect x="139.2" y="1025.3" width="25.2" height="25.0" fill="#868686"/>
<rect x="163.8" y="1025.3" width="25.2" height="25.0" fill="#989898"/>
<rect x="188.4" y="1025.3" width="25.2" height="25.0" fill="#ababab"/>
<rect x="213.1" y="1025.3" width="25.2" height="25.0" fill="#ababab"/>
<rect x="237.7" y="1025.3" width="25.2" height="25.0" fill="#868686"/>
<rect x="262.3" y="1025.3" width="25.2" height="25.0" fill="#989898"/>
<rect x="286.9" y="1025.3" width="25.2" height="25.0" fill="#868686"/>
<rect x="311.5" y="1025.3" width="25.2" height="25.0" fill="#868686"/>
<rect x="336.1" y="1025.3" width="25.2" height="25.0" fill="#747474"/>
<rect x="360.7" y="1025.3" width="25.2" height="25.0" fill="#747474"/>
<rect x="385.4" y="1025.3" width="25.2" height="25.0" fill="#989898"/>
<rect x="410.0" y="1025.3" width="25.2" height="25.0" fill="#868686"/>
<rect x="434.6" y="1025.3" width="25.2" height="25.0" fill="#989898"/>
<rect x="459.2" y="1025.3" width="25.2" height="25.0" fill="#868686"/>
<rect x="483.8" y="1025.3" width="25.2" height="25.0" fill="#868686"/>
<rect x="508.4" y="1025.3" width="25.2" height="25.0" fill="#616161"/>
<rect x="533.0" y="1025.3" width="25.2" height="25.0" fill="#616161"/>
<rect x="557.6" y="1025.3" width="25.2" height="25.0" fill="#747474"/>
<rect x="582.2" y="1025.3" width="25.2" height="25.0" fill="#747474"/>
<rect x="606.9" y="1025.3" width="25.2" height="25.0" fill="#747474"/>
<rect x="631.5" y="1025.3" width="25.2" height="25.0" fill="#747474"/>
<rect x="656.1" y="1025.3" width="25.2" height="25.0" fill="#747474"/>
<rect x="680.7" y="1025.3" width="25.2" height="25.0" fill="#747474"/>
<rect x="65.4" y="1049.7" width="25.2" height="25.0" fill="#747474"/>
<rect x="90.0" y="1049.7" width="25.2" height="25.0" fill="#747474"/>
<rect x="114.6" y="1049.7" width="25.2" height="25.0" fill="#616161"/>
<rect x="139.2" y="1049.7" width="25.2" height="25.0" fill="#868686"/>
<rect x="163.8" y="1049.7" width="25.2" height="25.0" fill="#989898"/>
<rect x="188.4" y="1049.7" width="25.2" height="25.0" fill="#ababab"/>
<rect x="213.1" y="1049.7" width="25.2" height="25.0" fill="#ababab"/>
<rect x="237.7" y="1049.7" width="25.2" height="25.0" fill="#868686"/>
<rect x="262.3" y="1049.7" width="25.2" height="25.0" fill="#989898"/>
<rect x="286.9" y="1049.7" width="25.2" height="25.0" fill="#868686"/>
<rect x="311.5" y="1049.7" width="25.2" height="25.0" fill="#868686"/>
<rect x="336.1" y="1049.7" width="25.2" height="25.0" fill="#747474"/>
<rect x="360.7" y="1049.7" width="25.2" height="25.0" fill="#747474"/>
<rect x="385.4" y="1049.7" width="25.2" height="25.0" fill="#989898"/>
<rect x="410.0" y="1049.7" width="25.2" height="25.0" fill="#868686"/>
<rect x="434.6" y="1049.7" width="25.2" height="25.0" fill="#989898"/>
<rect x="459.2" y="1049.7" width="25.2" height="25.0" fill="#868686"/>
<rect x="483.8" y="1049.7" width="25.2" height="25.0" fill="#868686"/>
<rect x="508.4" y="1049.7" width="25.2" height="25.0" fill="#616161"/>
<rect x="533.0" y="1049.7" width="25.2" height="25.0" fill="#616161"/>
<rect x="557.6" y="1049.7" width="25.2" height="25.0" fill="#747474"/>
<rect x="582.2" y="1049.7" width="25.2" height="25.0" fill="#747474"/>
<rect x="606.9" y="1049.7" width="25.2" height="25.0" fill="#747474"/>
<rect x="631.5" y="1049.7" width="25.2" height="25.0" fill="#747474"/>
<rect x="656.1" y="1049.7" width="25.2" height="25.0" fill="#747474"/>
<rect x="680.7" y="1049.7" width="25.2" height="25.0" fill="#747474"/>
</g>
<g filter="url(#fb2)" opacity="0.9">
<ellipse cx="102.5" cy="765.8" rx="4.5" ry="3.2" fill="#3f3f3f"/>
<ellipse cx="152.5" cy="768.2" rx="12.0" ry="5.8" fill="#3f3f3f"/>
<ellipse cx="153.5" cy="789.5" rx="8.0" ry="7.0" fill="#dadada"/>
<ellipse cx="102.5" cy="792.0" rx="12.0" ry="9.5" fill="#cccccc"/>
<ellipse cx="203.5" cy="793.0" rx="6.0" ry="3.5" fill="#bebebe"/>
<ellipse cx="233.5" cy="787.0" rx="6.0" ry="4.5" fill="#4e4e4e"/>
<ellipse cx="96.2" cy="820.5" rx="5.8" ry="8.0" fill="#3f3f3f"/>
<ellipse cx="117.0" cy="818.0" rx="4.5" ry="3.5" fill="#3f3f3f"/>
<ellipse cx="212.0" cy="835.5" rx="19.5" ry="6.0" fill="#cccccc"/>
<ellipse cx="254.6" cy="844.0" rx="9.5" ry="4.5" fill="#bebebe"/>
<ellipse cx="121.0" cy="864.5" rx="10.5" ry="7.0" fill="#cccccc"/>
<ellipse cx="151.0" cy="859.0" rx="5.5" ry="4.5" fill="#3f3f3f"/>
<ellipse cx="152.0" cy="875.5" rx="4.5" ry="3.0" fill="#dadada"/>
<ellipse cx="231.0" cy="862.0" rx="8.5" ry="9.5" fill="#313131"/>
<ellipse cx="255.0" cy="864.5" rx="14.5" ry="7.0" fill="#232323"/>
<ellipse cx="118.5" cy="887.0" rx="6.0" ry="4.5" fill="#3f3f3f"/>
<ellipse cx="231.0" cy="893.0" rx="8.5" ry="5.5" fill="#bebebe"/>
<ellipse cx="101.2" cy="853.0" rx="3.2" ry="3.5" fill="#cccccc"/>
<ellipse cx="297.0" cy="772.0" rx="7.0" ry="4.5" fill="#dadada"/>
<ellipse cx="327.0" cy="767.0" rx="9.5" ry="4.5" fill="#bebebe"/>
<ellipse cx="355.5" cy="773.0" rx="13.0" ry="5.5" fill="#cccccc"/>
<ellipse cx="378.0" cy="763.0" rx="8.5" ry="5.5" fill="#bebebe"/>
<ellipse cx="402.0" cy="764.5" rx="9.5" ry="7.0" fill="#4e4e4e"/>
<ellipse cx="428.0" cy="767.0" rx="8.5" ry="4.5" fill="#4e4e4e"/>
<ellipse cx="297.0" cy="797.0" rx="9.5" ry="4.5" fill="#3f3f3f"/>
<ellipse cx="343.0" cy="800.5" rx="8.5" ry="6.0" fill="#313131"/>
<ellipse cx="434.5" cy="788.0" rx="7.0" ry="5.5" fill="#bebebe"/>
<ellipse cx="473.0" cy="796.5" rx="10.5" ry="7.0" fill="#4e4e4e"/>
<ellipse cx="293.2" cy="831.5" rx="5.8" ry="7.0" fill="#cccccc"/>
<ellipse cx="380.5" cy="832.0" rx="11.0" ry="4.5" fill="#cccccc"/>
<ellipse cx="404.5" cy="831.5" rx="12.0" ry="2.0" fill="#bebebe"/>
<ellipse cx="378.0" cy="847.0" rx="8.5" ry="4.5" fill="#313131"/>
<ellipse cx="434.5" cy="844.0" rx="7.0" ry="4.5" fill="#3f3f3f"/>
<ellipse cx="464.0" cy="832.0" rx="4.5" ry="4.5" fill="#4e4e4e"/>
<ellipse cx="470.5" cy="814.5" rx="13.0" ry="7.0" fill="#bebebe"/>
<ellipse cx="292.0" cy="857.0" rx="4.5" ry="4.5" fill="#3f3f3f"/>
<ellipse cx="419.5" cy="857.0" rx="7.0" ry="4.5" fill="#4e4e4e"/>
<ellipse cx="475.5" cy="874.0" rx="8.0" ry="4.5" fill="#bebebe"/>
<ellipse cx="344.5" cy="882.0" rx="12.0" ry="4.5" fill="#cccccc"/>
<ellipse cx="367.0" cy="883.0" rx="9.5" ry="3.5" fill="#bebebe"/>
<ellipse cx="394.5" cy="885.5" rx="12.0" ry="6.0" fill="#bebebe"/>
<ellipse cx="319.5" cy="895.5" rx="7.0" ry="3.0" fill="#3f3f3f"/>
<ellipse cx="339.5" cy="898.5" rx="7.0" ry="4.0" fill="#3f3f3f"/>
<ellipse cx="449.5" cy="875.5" rx="12.0" ry="6.0" fill="#bebebe"/>
<ellipse cx="500.2" cy="772.0" rx="8.2" ry="7.0" fill="#cccccc"/>
<ellipse cx="517.5" cy="775.8" rx="8.0" ry="5.8" fill="#e8e8e8"/>
<ellipse cx="545.0" cy="762.0" rx="10.5" ry="4.5" fill="#bebebe"/>
<ellipse cx="574.0" cy="769.5" rx="14.5" ry="7.0" fill="#cccccc"/>
<ellipse cx="622.5" cy="769.5" rx="11.0" ry="7.0" fill="#3f3f3f"/>
<ellipse cx="643.5" cy="764.5" rx="12.0" ry="7.0" fill="#232323"/>
<ellipse cx="666.5" cy="767.0" rx="7.0" ry="4.5" fill="#3f3f3f"/>
<ellipse cx="516.5" cy="800.5" rx="12.0" ry="8.0" fill="#232323"/>
<ellipse cx="619.0" cy="793.0" rx="9.5" ry="8.5" fill="#dadada"/>
<ellipse cx="637.5" cy="788.0" rx="11.0" ry="5.5" fill="#cccccc"/>
<ellipse cx="668.5" cy="795.5" rx="12.0" ry="8.0" fill="#bebebe"/>
<ellipse cx="512.5" cy="821.5" rx="8.0" ry="7.0" fill="#dadada"/>
<ellipse cx="622.5" cy="812.0" rx="11.0" ry="4.5" fill="#4e4e4e"/>
<ellipse cx="617.5" cy="848.0" rx="6.0" ry="8.5" fill="#3f3f3f"/>
<ellipse cx="670.0" cy="852.0" rx="10.5" ry="9.5" fill="#3f3f3f"/>
<ellipse cx="511.0" cy="859.5" rx="14.5" ry="7.0" fill="#3f3f3f"/>
<ellipse cx="590.0" cy="864.0" rx="5.5" ry="4.5" fill="#bebebe"/>
<ellipse cx="617.5" cy="869.0" rx="8.0" ry="4.5" fill="#cccccc"/>
<ellipse cx="648.5" cy="855.5" rx="7.0" ry="3.0" fill="#bebebe"/>
<ellipse cx="594.0" cy="888.0" rx="9.5" ry="5.5" fill="#3f3f3f"/>
<ellipse cx="651.5" cy="895.0" rx="7.0" ry="7.5" fill="#bebebe"/>
<ellipse cx="269.5" cy="909.0" rx="17.0" ry="5.5" fill="#cccccc"/>
<ellipse cx="97.5" cy="935.0" rx="7.0" ry="4.5" fill="#cccccc"/>
<ellipse cx="156.0" cy="931.5" rx="8.5" ry="6.0" fill="#3f3f3f"/>
<ellipse cx="141.0" cy="970.0" rx="5.5" ry="4.5" fill="#3f3f3f"/>
<ellipse cx="97.5" cy="959.0" rx="7.0" ry="5.5" fill="#4e4e4e"/>
<ellipse cx="177.5" cy="958.0" rx="12.0" ry="4.5" fill="#bebebe"/>
<ellipse cx="200.0" cy="958.0" rx="4.5" ry="4.5" fill="#bebebe"/>
<ellipse cx="237.0" cy="961.5" rx="9.5" ry="6.0" fill="#313131"/>
<ellipse cx="179.5" cy="990.5" rx="12.0" ry="7.0" fill="#232323"/>
<ellipse cx="242.0" cy="985.0" rx="9.5" ry="4.5" fill="#dadada"/>
<ellipse cx="111.0" cy="1008.0" rx="5.5" ry="4.5" fill="#cccccc"/>
<ellipse cx="265.0" cy="1008.0" rx="4.5" ry="4.5" fill="#3f3f3f"/>
<ellipse cx="126.0" cy="1034.0" rx="8.5" ry="5.5" fill="#3f3f3f"/>
<ellipse cx="182.5" cy="1030.5" rx="12.0" ry="7.0" fill="#bebebe"/>
<ellipse cx="215.0" cy="1031.5" rx="9.5" ry="3.0" fill="#dadada"/>
<ellipse cx="294.5" cy="913.0" rx="7.0" ry="4.5" fill="#cccccc"/>
<ellipse cx="379.5" cy="924.0" rx="17.0" ry="8.5" fill="#313131"/>
<ellipse cx="417.0" cy="913.0" rx="9.5" ry="4.5" fill="#3f3f3f"/>
<ellipse cx="473.0" cy="910.5" rx="10.5" ry="7.0" fill="#bebebe"/>
<ellipse cx="373.0" cy="951.5" rx="18.5" ry="8.0" fill="#e8e8e8"/>
<ellipse cx="319.5" cy="958.0" rx="12.0" ry="4.5" fill="#3f3f3f"/>
<ellipse cx="477.5" cy="965.5" rx="6.0" ry="7.0" fill="#dadada"/>
<ellipse cx="372.0" cy="979.0" rx="14.5" ry="5.5" fill="#313131"/>
<ellipse cx="331.5" cy="995.0" rx="12.0" ry="4.5" fill="#bebebe"/>
<ellipse cx="468.0" cy="999.0" rx="15.5" ry="8.5" fill="#313131"/>
<ellipse cx="297.0" cy="1006.5" rx="7.0" ry="3.0" fill="#dadada"/>
<ellipse cx="393.0" cy="1006.5" rx="8.5" ry="6.0" fill="#cccccc"/>
<ellipse cx="402.0" cy="1024.0" rx="9.5" ry="3.5" fill="#3f3f3f"/>
<ellipse cx="409.5" cy="1041.5" rx="7.0" ry="6.0" fill="#cccccc"/>
<ellipse cx="454.5" cy="968.0" rx="7.0" ry="4.5" fill="#bebebe"/>
<ellipse cx="515.0" cy="923.0" rx="5.5" ry="4.5" fill="#4e4e4e"/>
<ellipse cx="610.0" cy="920.5" rx="8.5" ry="2.0" fill="#3f3f3f"/>
<ellipse cx="661.5" cy="923.0" rx="7.0" ry="4.5" fill="#3f3f3f"/>
<ellipse cx="608.5" cy="936.5" rx="7.0" ry="3.0" fill="#cccccc"/>
<ellipse cx="578.5" cy="948.0" rx="7.0" ry="4.5" fill="#bebebe"/>
<ellipse cx="490.0" cy="967.5" rx="5.5" ry="7.0" fill="#dadada"/>
<ellipse cx="566.5" cy="971.5" rx="12.0" ry="6.0" fill="#232323"/>
<ellipse cx="532.5" cy="985.5" rx="13.0" ry="7.0" fill="#e8e8e8"/>
<ellipse cx="545.0" cy="990.5" rx="10.5" ry="7.0" fill="#cccccc"/>
<ellipse cx="571.5" cy="995.5" rx="12.0" ry="7.0" fill="#dadada"/>
<ellipse cx="624.0" cy="1001.5" rx="9.5" ry="6.0" fill="#cccccc"/>
<ellipse cx="494.0" cy="1010.5" rx="9.5" ry="7.0" fill="#232323"/>
<ellipse cx="532.5" cy="1004.0" rx="6.0" ry="3.5" fill="#3f3f3f"/>
<ellipse cx="666.5" cy="1009.0" rx="7.0" ry="3.5" fill="#cccccc"/>
<ellipse cx="537.5" cy="1034.0" rx="21.0" ry="5.5" fill="#3f3f3f"/>
<ellipse cx="631.5" cy="1028.0" rx="7.0" ry="4.5" fill="#4e4e4e"/>
</g>
</g></g>
<rect x="90.25" y="756.85" width="590.20" height="292.60" fill="none" stroke="#9a9a9a" stroke-width="0.5"/>
<line x1="187.71" y1="1049.7" x2="187.71" y2="1043.7" stroke="#333" stroke-width="0.7" opacity="0.6"/>
<line x1="187.71" y1="756.6" x2="187.71" y2="762.6" stroke="#333" stroke-width="0.7" opacity="0.6"/>
<text x="187.71" y="1073.70" text-anchor="middle" class="tk">500</text>
<line x1="286.16" y1="1049.7" x2="286.16" y2="1043.7" stroke="#333" stroke-width="0.7" opacity="0.6"/>
<line x1="286.16" y1="756.6" x2="286.16" y2="762.6" stroke="#333" stroke-width="0.7" opacity="0.6"/>
<text x="286.16" y="1073.70" text-anchor="middle" class="tk">1000</text>
<line x1="384.61" y1="1049.7" x2="384.61" y2="1043.7" stroke="#333" stroke-width="0.7" opacity="0.6"/>
<line x1="384.61" y1="756.6" x2="384.61" y2="762.6" stroke="#333" stroke-width="0.7" opacity="0.6"/>
<text x="384.61" y="1073.70" text-anchor="middle" class="tk">1500</text>
<line x1="483.06" y1="1049.7" x2="483.06" y2="1043.7" stroke="#333" stroke-width="0.7" opacity="0.6"/>
<line x1="483.06" y1="756.6" x2="483.06" y2="762.6" stroke="#333" stroke-width="0.7" opacity="0.6"/>
<text x="483.06" y="1073.70" text-anchor="middle" class="tk">2000</text>
<line x1="581.51" y1="1049.7" x2="581.51" y2="1043.7" stroke="#333" stroke-width="0.7" opacity="0.6"/>
<line x1="581.51" y1="756.6" x2="581.51" y2="762.6" stroke="#333" stroke-width="0.7" opacity="0.6"/>
<text x="581.51" y="1073.70" text-anchor="middle" class="tk">2500</text>
<line x1="679.96" y1="1049.7" x2="679.96" y2="1043.7" stroke="#333" stroke-width="0.7" opacity="0.6"/>
<line x1="679.96" y1="756.6" x2="679.96" y2="762.6" stroke="#333" stroke-width="0.7" opacity="0.6"/>
<text x="679.96" y="1073.70" text-anchor="middle" class="tk">3000</text>
<line x1="90.0" y1="829.51" x2="96.0" y2="829.51" stroke="#333" stroke-width="0.7" opacity="0.6"/>
<line x1="680.7" y1="829.51" x2="674.7" y2="829.51" stroke="#333" stroke-width="0.7" opacity="0.6"/>
<text x="83.40" y="833.81" text-anchor="end" class="tk">100</text>
<line x1="90.0" y1="902.78" x2="96.0" y2="902.78" stroke="#333" stroke-width="0.7" opacity="0.6"/>
<line x1="680.7" y1="902.78" x2="674.7" y2="902.78" stroke="#333" stroke-width="0.7" opacity="0.6"/>
<text x="83.40" y="907.08" text-anchor="end" class="tk">200</text>
<line x1="90.0" y1="976.06" x2="96.0" y2="976.06" stroke="#333" stroke-width="0.7" opacity="0.6"/>
<line x1="680.7" y1="976.06" x2="674.7" y2="976.06" stroke="#333" stroke-width="0.7" opacity="0.6"/>
<text x="83.40" y="980.36" text-anchor="end" class="tk">300</text>
<line x1="90.0" y1="1049.33" x2="96.0" y2="1049.33" stroke="#333" stroke-width="0.7" opacity="0.6"/>
<line x1="680.7" y1="1049.33" x2="674.7" y2="1049.33" stroke="#333" stroke-width="0.7" opacity="0.6"/>
<text x="83.40" y="1053.63" text-anchor="end" class="tk">400</text>
<rect x="707.1" y="756.6" width="11.30" height="293.10" fill="url(#jetgrad)"/>
<rect x="707.35" y="756.85" width="10.80" height="292.60" fill="none" stroke="#9a9a9a" stroke-width="0.5"/>
<line x1="715.90" y1="756.80" x2="718.40" y2="756.80" stroke="#333" stroke-width="0.7" opacity="0.5"/>
<text x="724.90" y="761.70" class="cbt">4</text>
<line x1="715.90" y1="830.30" x2="718.40" y2="830.30" stroke="#333" stroke-width="0.7" opacity="0.5"/>
<text x="724.90" y="835.20" class="cbt">2</text>
<line x1="715.90" y1="903.80" x2="718.40" y2="903.80" stroke="#333" stroke-width="0.7" opacity="0.5"/>
<text x="724.90" y="908.70" class="cbt">0</text>
<line x1="715.90" y1="977.30" x2="718.40" y2="977.30" stroke="#333" stroke-width="0.7" opacity="0.5"/>
<text x="724.90" y="982.20" class="cbt">-2</text>
<text x="401.90" y="1111.70" text-anchor="middle" class="lab">(c)</text>
<text x="263.0" y="1154.9" class="big" textLength="80.1" lengthAdjust="spacingAndGlyphs">Range</text>
<text x="359.6" y="1154.9" class="big" textLength="113.8" lengthAdjust="spacingAndGlyphs">direction</text>
<text x="490.0" y="1154.9" class="big" textLength="41.0" lengthAdjust="spacingAndGlyphs">(m)</text>
<text transform="translate(38.6,698.6) rotate(-90)" class="big" textLength="119.6" lengthAdjust="spacingAndGlyphs">Azimuth</text>
<text transform="translate(38.6,556.8) rotate(-90)" class="big" textLength="113.1" lengthAdjust="spacingAndGlyphs">direction</text>
<text transform="translate(38.6,419.1) rotate(-90)" class="big" textLength="41.6" lengthAdjust="spacingAndGlyphs">(m)</text>
<text transform="translate(769.8,671.5) rotate(-90)" class="cbl" textLength="81.2" lengthAdjust="spacingAndGlyphs">Surface</text>
<text transform="translate(769.8,580.0) rotate(-90)" class="cbl" textLength="54.5" lengthAdjust="spacingAndGlyphs">Wave</text>
<text transform="translate(769.8,517.8) rotate(-90)" class="cbl" textLength="76.7" lengthAdjust="spacingAndGlyphs">Height</text>
<text transform="translate(769.8,433.5) rotate(-90)" class="cbl" textLength="33.9" lengthAdjust="spacingAndGlyphs">(m)</text>
</svg>
</body></html>
